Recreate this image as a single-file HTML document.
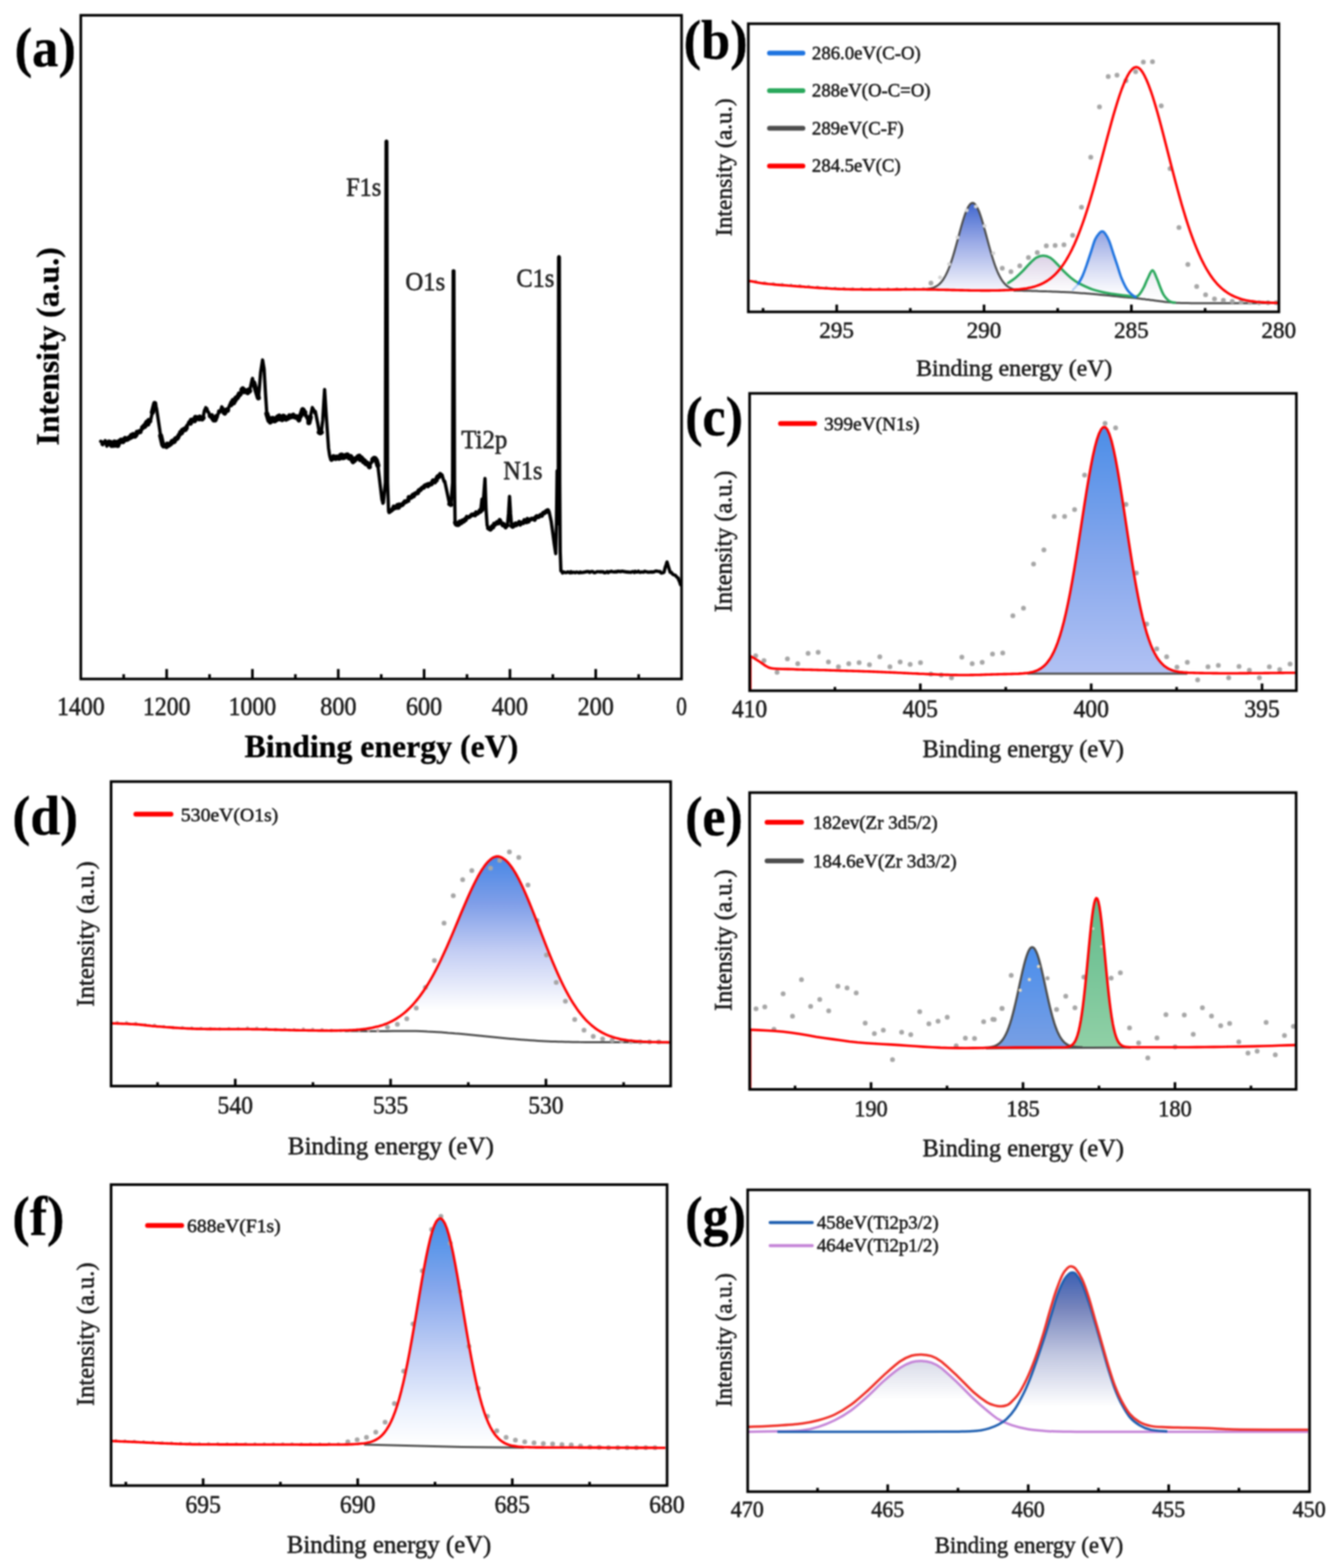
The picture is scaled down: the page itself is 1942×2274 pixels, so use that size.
<!DOCTYPE html>
<html lang="en"><head><meta charset="utf-8"><title>XPS spectra</title>
<style>
html,body{margin:0;padding:0;background:#fff;}
body{width:1942px;height:2274px;overflow:hidden;font-family:"Liberation Serif",serif;}
svg{display:block;}
text.r{stroke:#1c1c1c;stroke-width:0.8px;stroke-linejoin:round;}
text.b{stroke:#000;stroke-width:0.5px;stroke-linejoin:round;}
</style></head><body>
<svg width="1942" height="2274" viewBox="0 0 1942 2274" font-family="'Liberation Serif', serif"><defs><filter id="soft" x="0" y="0" width="1942" height="2274" filterUnits="userSpaceOnUse" color-interpolation-filters="sRGB"><feGaussianBlur stdDeviation="0.8"/></filter><linearGradient id="gb1" gradientUnits="userSpaceOnUse" x1="0" y1="294" x2="0" y2="420"><stop offset="0" stop-color="#3f66cf"/><stop offset="0.45" stop-color="#9aaae6"/><stop offset="1" stop-color="#f4f5fc"/></linearGradient><linearGradient id="gb2" gradientUnits="userSpaceOnUse" x1="0" y1="336" x2="0" y2="428"><stop offset="0" stop-color="#93a4e2"/><stop offset="0.5" stop-color="#d0d6f2"/><stop offset="1" stop-color="#ffffff"/></linearGradient><linearGradient id="gb3" gradientUnits="userSpaceOnUse" x1="0" y1="371" x2="0" y2="424"><stop offset="0" stop-color="#dcd2e6"/><stop offset="1" stop-color="#ffffff"/></linearGradient><linearGradient id="gb4" gradientUnits="userSpaceOnUse" x1="0" y1="392" x2="0" y2="436"><stop offset="0" stop-color="#ececf4"/><stop offset="1" stop-color="#ffffff"/></linearGradient><linearGradient id="gc1" gradientUnits="userSpaceOnUse" x1="0" y1="620" x2="0" y2="980"><stop offset="0" stop-color="#4c8ee8"/><stop offset="0.5" stop-color="#84a6ec"/><stop offset="1" stop-color="#b2c2f4"/></linearGradient><linearGradient id="gd1" gradientUnits="userSpaceOnUse" x1="0" y1="1243" x2="0" y2="1465"><stop offset="0" stop-color="#4888e6"/><stop offset="0.3" stop-color="#7f9ee8"/><stop offset="0.62" stop-color="#c4cef4"/><stop offset="1" stop-color="#ffffff"/></linearGradient><linearGradient id="ge1" gradientUnits="userSpaceOnUse" x1="0" y1="1374" x2="0" y2="1520"><stop offset="0" stop-color="#4a8eec"/><stop offset="1" stop-color="#789fe4"/></linearGradient><linearGradient id="ge2" gradientUnits="userSpaceOnUse" x1="0" y1="1302" x2="0" y2="1520"><stop offset="0" stop-color="#62bb8c"/><stop offset="1" stop-color="#90d0a6"/></linearGradient><linearGradient id="gf1" gradientUnits="userSpaceOnUse" x1="0" y1="1768" x2="0" y2="2095"><stop offset="0" stop-color="#448ee8"/><stop offset="0.3" stop-color="#84a6ec"/><stop offset="0.6" stop-color="#c2d0f5"/><stop offset="0.85" stop-color="#ecf2fd"/><stop offset="1" stop-color="#ffffff"/></linearGradient><linearGradient id="gg1" gradientUnits="userSpaceOnUse" x1="0" y1="1848" x2="0" y2="2040"><stop offset="0" stop-color="#3f62b4"/><stop offset="0.25" stop-color="#7684bc"/><stop offset="0.6" stop-color="#c0c6e0"/><stop offset="1" stop-color="#ffffff"/></linearGradient><linearGradient id="gg2" gradientUnits="userSpaceOnUse" x1="0" y1="1975" x2="0" y2="2030"><stop offset="0" stop-color="#d9dce9"/><stop offset="1" stop-color="#ffffff"/></linearGradient></defs><rect width="1942" height="2274" fill="#fff"/><g filter="url(#soft)"><rect width="1942" height="2274" fill="#fff"/><path d="M146 640L146.8 640.3L147.5 640.7L148.2 644.5L149 645L149.8 641.5L150.5 642.7L151.2 640.6L152 640L152.6 639.1L153.2 642.8L153.8 641.8L154.4 645.3L155 647L155.8 643.3L156.5 641.9L157.2 642.1L158 641L159 643.9L160 641.5L161 643.3L162 646L163 645.4L164 645.8L165 642.7L166 641L167 641.5L168 645.5L169 641.6L170 645L171 645.9L172 641.9L173 640.2L174 641L175.5 638.3L177 638.5L178.5 640.4L180 638L181.5 635.8L183 637.4L184.5 637.2L186 636L187.5 634.6L189 634.7L190.5 631.5L192 633L193.2 630.2L194.5 630.5L195.8 632.4L197 631L197.7 629.3L198.3 627.4L199 627L200.3 627.1L201.7 626.1L203 626L203.8 623.8L204.6 625.1L205.4 623.4L206.2 619.9L207 620L208 619.2L209 617.7L210 618.4L211 616.4L212 614L213.2 612.1L214.5 615L215.8 609.8L217 611L217.7 609.2L218.3 609.7L219 607L221 598L224.4 585L224.9 584.6L225.4 587.7L226 586.8L226.5 591.5L227 592L230 612L233 632L236 645L237.3 646.7L238.7 646L240 646L241.4 647.6L242.8 644.2L244.2 645.8L245.6 644.9L247 644L248 643.1L249 641.1L250 640L251.3 640.8L252.7 640.3L254 637L255.3 635.9L256.7 635.9L258 634L258.8 630.3L259.6 632.2L260.4 630.6L261.2 631L262 627L263.3 627.7L264.7 623.9L266 624L267.3 622.4L268.7 622.9L270 621L270.8 617.2L271.7 618.1L272.5 615.3L273.3 613.7L274.2 612L275 613L276.2 613.6L277.4 609.5L278.6 609.3L279.8 609.2L281 609L282.2 610.2L283.5 605.3L284.8 606.5L286 606L287.3 605.9L288.7 607.3L290 605L291.5 607L293 607.6L294.5 606L296 598L296.5 595.4L297 594.8L297.5 593.1L298 594.4L298.5 591L299.1 594.9L299.8 592.2L300.4 593.8L301 597L301.8 596.8L302.6 598L303.4 600.5L304.2 602.3L305 603L306 603L307 602.8L308 606.2L309 607.1L310 609L311 608.1L312 608.9L313 606.2L314 604L314.8 602.7L315.6 601.8L316.4 600.7L317.2 596.1L318 597L318.7 597.7L319.4 595.7L320.2 594.7L320.9 592.9L321.6 590L322.2 590.9L322.8 592.5L323.4 592.4L324 596L325 598.2L326 599L327 595.7L328 594.8L329 594.5L330 595L330.8 591.9L331.7 591.5L332.5 588.7L333.3 587.1L334.2 586.5L335 587L336 583.7L337 583.9L338 580.9L339 584.1L340 581L341 580.6L342 577.2L343 576.7L344 577L345 575L346 573.8L347 571.3L348 572L348.6 572.4L349.2 571.8L349.8 567.6L350.4 566.3L351 565L352 563.8L353 564.9L354 568L355.3 567.2L356.7 566.8L358 568L359.3 569.4L360.7 565.6L362 567L364 558L365.7 550L366.3 548.8L366.9 554.8L367.4 553.9L368 555L371 565L374.7 577L376 565L378 540L380.8 522L383 535L385 570L387 600L390 610L391 609.2L392 612L393 611L394 607L395 608.4L396 607L397.3 610.2L398.7 610.2L400 609L401 608.8L402 605.3L403 604.6L404 604L405 603.3L406 607.4L407 607.2L408 608L409 608.5L410 605.1L411 603.6L412 604L413.3 606.3L414.7 607.9L416 606L417.3 606.8L418.7 605.6L420 603L421.3 604.7L422.7 604.2L424 603L425.3 602.2L426.7 604.4L428 605L429.1 605L430.2 604.2L431.3 604.9L432.4 607.1L433.5 609L434.1 606.2L434.8 607L435.4 606.9L436 603L439 594L440 595.1L441 598.9L442 598L442.5 601.9L443 603L443.5 601.3L444 601.9L444.5 603.2L445 606L445.6 605.8L446.2 607.3L446.8 610.8L447.4 613.7L448 613L450 605L453 591L453.8 594L454.5 593.4L455.2 595.5L456 596L456.7 598.9L457.3 596.5L458 600L461 615L463 627L464.5 627.8L466 627L468 610L470.8 565L473 600L476.5 650L478 660L478.8 663.6L479.5 664.5L480.2 665.8L481 666L482.3 664.9L483.7 662.3L485 663L486.7 664.8L488.3 662.8L490 664L491.2 664.6L492.5 664.5L493.8 660.5L495 660L496.2 660.2L497.5 663.8L498.8 663.4L500 663L501.2 660.8L502.5 660.1L503.8 659.7L505 661L506.2 664.1L507.5 664.6L508.8 662.2L510 665L511 667.7L512 669.5L513 668L514.2 667.8L515.5 665.2L516.8 665.3L518 664L519.5 662.1L521 661.5L522.5 666.4L524 664L525 665.8L526 666.1L527 669.3L528 668L529 668.7L530 671.9L531 672.7L532 672L532.9 671.7L533.9 673.2L534.8 674.7L535.7 677L536.3 674.4L536.9 674.9L537.4 672L538 672L538.8 670.1L539.5 667.1L540.2 669.6L541 666L542.5 664.7L544 665L545 666.3L546 668L548 675L551 700L554 725L554.7 726.8L555.3 729.8L556 729L558.9 700L560 205L560.5 204.6L561 205L562.1 700L563.5 740L564.2 743.2L565 742L566.2 741L567.5 740.2L568.8 739.1L570 738L571.2 735L572.5 736.7L573.8 734.9L575 736L576.5 732.7L578 736.1L579.5 732L581 733L582.2 731.9L583.5 732.2L584.8 730.3L586 729L587.3 727.4L588.7 727.8L590 727L591 726L592 726L593 721.2L594 722L595.5 721.8L597 721L598 718.7L599 717.8L600 719.4L601 717L602 716L603.2 715.3L604.5 715.4L605.8 715.1L607 712L608.2 710.7L609.5 710.6L610.8 709L612 708L613.2 707.1L614.5 707L615.8 704.8L617 704L618.2 703.7L619.5 702.9L620.8 704.8L622 702L623.2 702.3L624.5 702.5L625.8 702L627 699L628.2 697L629.5 697.8L630.8 699.1L632 696L633 696.8L634 692.1L635 691L636 692L637.2 690.7L638.5 687.8L639.7 689L640.5 688.7L641.2 688.8L642 692L642.8 694.4L643.5 696.5L644.2 698.6L645 698L648 712L652 731L653 729.7L654 732L656.4 700L657.3 393L657.8 394.1L658.3 393L659.2 700L660 758L661 760.3L662 761L663.2 758.3L664.4 761.4L665.6 761L666.8 756.3L668 757L669.2 758.6L670.4 754.9L671.6 754.5L672.8 756.3L674 753L675.5 754L677 749.7L678.5 750.4L680 750L681.5 749.3L683 747.7L684.5 746.2L686 747L687.5 745.6L689 747.2L690.5 743L692 745L693.2 744.5L694.5 743.2L695.8 740.2L697 742L699 724L700 740L701.5 720L703.4 694L705 740L706.5 762L707 762.5L707.5 765.3L708 766L709.5 767.1L711 768L711.8 764.5L712.5 768L713.2 765.7L714 763L715.3 764.8L716.7 759.6L718 761L719.3 759.1L720.7 757.3L722 759L722.9 759.5L723.8 755.8L724.7 754.1L725.6 755L726.4 755.9L727.2 759.8L728 759L729 761.7L730 759.7L731 760.2L732 763L733.3 764.8L734.7 762.7L736 762L737.5 745L739 720L740.5 745L742 763L743.5 764L745 763L746.2 760.1L747.5 759.2L748.8 761.7L750 760L751.5 759.1L753 756.8L754.5 760.8L756 758L757.5 758.2L759 758.6L760.5 754.3L762 756L763.5 757.4L765 752.7L766.5 756.4L768 754L769.5 753.3L771 752.2L772.5 752.8L774 752L775.5 753.7L777 749.8L778.5 748.6L780 750L781.5 749.6L783 747.6L784.5 746.5L786 748L787 745.2L788 743.7L789 743.4L790 744L791.1 742L792.3 741L793.5 742.3L794.6 740L795.2 740.2L795.8 742.5L796.4 742.1L797 745L799.4 756L802 775L804 790L806 803L807 760L808 683L808.5 760L809.7 700L810.2 373L810.7 372.2L811.2 373L811.8 700L812.5 800L813.5 828L814.3 828L815.2 829.5L816 831L817.5 829.5L819 830L820.5 830.5L822 830.1L823.5 829.3L825 829.9L826.5 830.8L828 829.1L829.5 830.6L831 829.8L832.5 829.9L834.1 830.6L835.6 829.7L837.1 829.9L838.6 830.2L840.1 830.8L841.6 829.5L843.1 830.5L844.6 830.2L846.1 830.1L847.6 829.6L849.1 829.5L850.6 828.8L852.1 829L853.6 828.9L855.1 830.2L856.6 829.2L858.1 829L859.6 828.8L861.2 830.4L862.7 830.5L864.2 830L865.7 829.2L867.2 829.1L868.7 829.2L870.2 829.5L871.7 828.9L873.2 829.5L874.7 829.1L876.2 830.5L877.7 830.6L879.2 829.7L880.7 829L882.2 830.5L883.7 829.1L885.2 829.2L886.7 828.5L888.3 829.2L889.8 829.4L891.3 829.5L892.8 828.8L894.3 829.5L895.8 828.4L897.3 828.9L898.8 828.6L900.3 829.2L901.8 828.4L903.3 828.4L904.8 829L906.3 828.8L907.8 829.5L909.3 829.4L910.8 829.9L912.3 829.6L913.8 829.8L915.4 830.1L916.9 829.1L918.4 828.9L919.9 830.3L921.4 828.5L922.9 829.7L924.4 829.5L925.9 828.3L927.4 829.9L928.9 830L930.4 829.5L931.9 829.7L933.4 829.8L934.9 828.4L936.4 829.2L937.9 829.1L939.4 829.8L940.9 829.7L942.5 829.8L944 829.3L945.5 829.9L947 829.4L948.5 829.5L950 828.5L951.5 828.1L953 828.3L954.5 828.7L956 829L957.3 828.8L958.7 831L960 831L961.5 830.6L963 830L965 822L965.5 820.9L966 819.5L966.4 818.2L966.9 816.4L967.4 815L969.5 822L972 830L973.5 830L975 832L976.3 833.3L977.7 833.8L979 834L980 835L981 836.1L982 837.3L983 838L983.7 838.4L984.3 841.2L985 842L987 848" fill="none" stroke="#000" stroke-width="4.8" stroke-linejoin="round" stroke-linecap="round"/>
<path d="M158 641L159 643.9L160 641.5L161 643.3L162 646L163 645.4L164 645.8L165 642.7L166 641L167 641.5L168 645.5L169 641.6L170 645L171 645.9L172 641.9L173 640.2L174 641L175.5 638.3L177 638.5L178.5 640.4L180 638L181.5 635.8L183 637.4L184.5 637.2L186 636L187.5 634.6L189 634.7L190.5 631.5L192 633L193.2 630.2L194.5 630.5L195.8 632.4L197 631M199 627L200.3 627.1L201.7 626.1L203 626M207 620L208 619.2L209 617.7L210 618.4L211 616.4L212 614L213.2 612.1L214.5 615L215.8 609.8L217 611M221 598L224.4 585M233 632L236 645L237.3 646.7L238.7 646L240 646L241.4 647.6L242.8 644.2L244.2 645.8L245.6 644.9L247 644L248 643.1L249 641.1L250 640L251.3 640.8L252.7 640.3L254 637L255.3 635.9L256.7 635.9L258 634M262 627L263.3 627.7L264.7 623.9L266 624L267.3 622.4L268.7 622.9L270 621M275 613L276.2 613.6L277.4 609.5L278.6 609.3L279.8 609.2L281 609L282.2 610.2L283.5 605.3L284.8 606.5L286 606L287.3 605.9L288.7 607.3L290 605L291.5 607L293 607.6L294.5 606M305 603L306 603L307 602.8L308 606.2L309 607.1L310 609L311 608.1L312 608.9L313 606.2L314 604M324 596L325 598.2L326 599L327 595.7L328 594.8L329 594.5L330 595M335 587L336 583.7L337 583.9L338 580.9L339 584.1L340 581L341 580.6L342 577.2L343 576.7L344 577L345 575L346 573.8L347 571.3L348 572M351 565L352 563.8L353 564.9L354 568L355.3 567.2L356.7 566.8L358 568L359.3 569.4L360.7 565.6L362 567M368 555L371 565L374.7 577M387 600L390 610L391 609.2L392 612L393 611L394 607L395 608.4L396 607L397.3 610.2L398.7 610.2L400 609L401 608.8L402 605.3L403 604.6L404 604L405 603.3L406 607.4L407 607.2L408 608L409 608.5L410 605.1L411 603.6L412 604L413.3 606.3L414.7 607.9L416 606L417.3 606.8L418.7 605.6L420 603L421.3 604.7L422.7 604.2L424 603L425.3 602.2L426.7 604.4L428 605L429.1 605L430.2 604.2L431.3 604.9L432.4 607.1L433.5 609M436 603L439 594L440 595.1L441 598.9L442 598M448 613L450 605M463 627L464.5 627.8L466 627M481 666L482.3 664.9L483.7 662.3L485 663L486.7 664.8L488.3 662.8L490 664L491.2 664.6L492.5 664.5L493.8 660.5L495 660L496.2 660.2L497.5 663.8L498.8 663.4L500 663L501.2 660.8L502.5 660.1L503.8 659.7L505 661L506.2 664.1L507.5 664.6L508.8 662.2L510 665L511 667.7L512 669.5L513 668L514.2 667.8L515.5 665.2L516.8 665.3L518 664L519.5 662.1L521 661.5L522.5 666.4L524 664L525 665.8L526 666.1L527 669.3L528 668L529 668.7L530 671.9L531 672.7L532 672L532.9 671.7L533.9 673.2L534.8 674.7L535.7 677M541 666L542.5 664.7L544 665L545 666.3L546 668L548 675" fill="none" stroke="#000" stroke-width="7.4" stroke-linejoin="round" stroke-linecap="round"/>
<path d="M565 742L566.2 741L567.5 740.2L568.8 739.1L570 738L571.2 735L572.5 736.7L573.8 734.9L575 736L576.5 732.7L578 736.1L579.5 732L581 733L582.2 731.9L583.5 732.2L584.8 730.3L586 729L587.3 727.4L588.7 727.8L590 727L591 726L592 726M593 721.2L594 722L595.5 721.8L597 721L598 718.7L599 717.8L600 719.4L601 717L602 716L603.2 715.3L604.5 715.4L605.8 715.1L607 712L608.2 710.7L609.5 710.6L610.8 709L612 708L613.2 707.1L614.5 707L615.8 704.8L617 704L618.2 703.7L619.5 702.9L620.8 704.8L622 702L623.2 702.3L624.5 702.5L625.8 702L627 699L628.2 697L629.5 697.8L630.8 699.1L632 696L633 696.8M634 692.1L635 691L636 692L637.2 690.7L638.5 687.8L639.7 689M652 731L653 729.7L654 732" fill="none" stroke="#000" stroke-width="6.6" stroke-linejoin="round" stroke-linecap="round"/>
<path d="M660 758L661 760.3L662 761L663.2 758.3L664.4 761.4L665.6 761L666.8 756.3L668 757L669.2 758.6L670.4 754.9L671.6 754.5L672.8 756.3L674 753L675.5 754L677 749.7L678.5 750.4L680 750L681.5 749.3L683 747.7L684.5 746.2L686 747L687.5 745.6L689 747.2L690.5 743L692 745L693.2 744.5L694.5 743.2L695.8 740.2L697 742M708 766L709.5 767.1L711 768M714 763L715.3 764.8L716.7 759.6L718 761L719.3 759.1L720.7 757.3L722 759M723.8 755.8L724.7 754.1M728 759L729 761.7L730 759.7L731 760.2L732 763L733.3 764.8L734.7 762.7L736 762M742 763L743.5 764L745 763L746.2 760.1L747.5 759.2L748.8 761.7L750 760L751.5 759.1L753 756.8L754.5 760.8L756 758L757.5 758.2L759 758.6L760.5 754.3L762 756L763.5 757.4L765 752.7L766.5 756.4L768 754L769.5 753.3L771 752.2L772.5 752.8L774 752L775.5 753.7L777 749.8L778.5 748.6L780 750L781.5 749.6L783 747.6L784.5 746.5L786 748L787 745.2L788 743.7L789 743.4L790 744L791.1 742L792.3 741L793.5 742.3L794.6 740" fill="none" stroke="#000" stroke-width="6.0" stroke-linejoin="round" stroke-linecap="round"/>
<rect x="117.2" y="22.2" width="871.3" height="962.5" fill="none" stroke="#000" stroke-width="3.8"/>
<path d="M241.7 984.7V970.2M366.1 984.7V970.2M490.6 984.7V970.2M615.1 984.7V970.2M739.6 984.7V970.2M864 984.7V970.2" stroke="#000" stroke-width="3.8" fill="none"/>
<path d="M179.4 984.7V977.7M303.9 984.7V977.7M428.4 984.7V977.7M552.9 984.7V977.7M677.3 984.7V977.7M801.8 984.7V977.7M926.3 984.7V977.7" stroke="#000" stroke-width="3.8" fill="none"/>
<text x="82.7" y="1036.8" font-size="38" textLength="69" lengthAdjust="spacingAndGlyphs" class="r" fill="#1c1c1c">1400</text>
<text x="207.2" y="1036.8" font-size="38" textLength="69" lengthAdjust="spacingAndGlyphs" class="r" fill="#1c1c1c">1200</text>
<text x="331.6" y="1036.8" font-size="38" textLength="69" lengthAdjust="spacingAndGlyphs" class="r" fill="#1c1c1c">1000</text>
<text x="464.4" y="1036.8" font-size="38" textLength="52.5" lengthAdjust="spacingAndGlyphs" class="r" fill="#1c1c1c">800</text>
<text x="588.8" y="1036.8" font-size="38" textLength="52.5" lengthAdjust="spacingAndGlyphs" class="r" fill="#1c1c1c">600</text>
<text x="713.3" y="1036.8" font-size="38" textLength="52.5" lengthAdjust="spacingAndGlyphs" class="r" fill="#1c1c1c">400</text>
<text x="837.8" y="1036.8" font-size="38" textLength="52.5" lengthAdjust="spacingAndGlyphs" class="r" fill="#1c1c1c">200</text>
<text x="980.8" y="1036.8" font-size="38" textLength="15.5" lengthAdjust="spacingAndGlyphs" class="r" fill="#1c1c1c">0</text>
<text x="354.7" y="1098" font-size="46.5" textLength="396.9" lengthAdjust="spacingAndGlyphs" font-weight="bold" class="b" fill="#000">Binding energy (eV)</text>
<text transform="translate(84.8 646) rotate(-90)" x="0" y="0" font-size="46.5" textLength="287.2" lengthAdjust="spacingAndGlyphs" font-weight="bold" class="b" fill="#000">Intensity (a.u.)</text>
<text x="502" y="284" font-size="38" textLength="51" lengthAdjust="spacingAndGlyphs" class="r" fill="#262626">F1s</text>
<text x="588" y="421" font-size="38" textLength="57.6" lengthAdjust="spacingAndGlyphs" class="r" fill="#262626">O1s</text>
<text x="749" y="415.5" font-size="38" textLength="55" lengthAdjust="spacingAndGlyphs" class="r" fill="#262626">C1s</text>
<text x="669" y="649.6" font-size="38" textLength="66.8" lengthAdjust="spacingAndGlyphs" class="r" fill="#262626">Ti2p</text>
<text x="730" y="694.8" font-size="38" textLength="56.7" lengthAdjust="spacingAndGlyphs" class="r" fill="#262626">N1s</text>
<text x="21.2" y="96.2" font-size="80" textLength="88.9" lengthAdjust="spacingAndGlyphs" font-weight="bold" class="b" fill="#000">(a)</text>
<path d="M1340 419.4L1342 419.3L1344 419.2L1346 418.9L1348 418.6L1350 418.2L1352 417.7L1354 417.1L1356 416.2L1358 415.2L1360 413.9L1362 412.3L1364 410.4L1366 408L1368 405.3L1370 402.1L1372 398.4L1374 394.2L1376 389.5L1378 384.2L1380 378.4L1382 372.2L1384 365.5L1386 358.4L1388 351.2L1390 343.8L1392 336.4L1394 329.1L1396 322.1L1398 315.6L1400 309.8L1402 304.7L1404 300.5L1406 297.3L1408 295.2L1410 294.3L1412 294.5L1414 296L1416 298.6L1418 302.3L1420 306.9L1422 312.4L1424 318.6L1426 325.4L1428 332.6L1430 340L1432 347.4L1434 354.9L1436 362.1L1438 369.1L1440 375.6L1442 381.7L1444 387.4L1446 392.5L1448 397L1450 401.1L1452 404.6L1454 407.7L1456 410.3L1458 412.4L1460 414.3L1462 415.8L1464 417L1466 418L1468 418.8L1470 419.5L1472 420L1474 420.4L1476 420.7L1478 420.9L1480 421.1L1480 421.6L1340 419.8Z" fill="url(#gb1)"/>
<path d="M1462.1 410.4C1463.8 409.2 1468.9 406 1472.3 403.3C1475.7 400.6 1479 397.5 1482.4 394.1C1485.8 390.7 1489.2 386.4 1492.6 383C1496 379.6 1499.4 375.9 1502.8 373.8C1506.2 371.8 1509.6 370.7 1513 370.7C1516.4 370.7 1519.8 371.8 1523.2 373.8C1526.6 375.9 1529.9 379.6 1533.3 383C1536.7 386.4 1540.1 390.7 1543.5 394.1C1546.9 397.5 1550.3 400.6 1553.7 403.3C1557.1 406 1558.8 407.7 1563.9 410.4C1569 413.1 1577.4 417.2 1584.2 419.6C1591 422 1597.8 423.4 1604.6 424.7C1611.4 426 1619 426.9 1624.9 427.7C1630.8 428.5 1637.5 429.3 1640 429.6L1640 431.6L1462 421.4Z" fill="url(#gb3)"/>
<path d="M1646.8 430.6C1647.7 430.1 1650.2 429.8 1652.2 427.4C1654.2 425 1657 420.4 1659 416.5C1661 412.6 1662.3 408.4 1664.4 404.3C1666.5 400.2 1669.2 392.1 1671.5 392.1C1673.8 392.1 1676.1 400.2 1678 404.3C1679.9 408.4 1681.1 412.6 1682.7 416.5C1684.3 420.4 1685.6 424.2 1687.5 427.4C1689.4 430.6 1692.3 433.7 1694.3 435.5C1696.3 437.3 1698.1 437.6 1699.7 438.2C1701.3 438.8 1703.3 438.7 1704 438.8Z" fill="url(#gb4)"/>
<path d="M1556 420.5C1557.3 419 1561.6 414.8 1563.9 411.4C1566.2 408 1568 404.8 1570 400.2C1572 395.6 1574.1 389.8 1576.1 384C1578.1 378.2 1580.2 371.7 1582.2 365.6C1584.2 359.5 1586.3 351.9 1588.3 347.3C1590.3 342.7 1592.7 340.2 1594.4 338.2C1596.1 336.2 1597.2 335.5 1598.5 335.5C1599.8 335.5 1600.8 335.9 1602.5 338.2C1604.2 340.5 1606.6 344.5 1608.6 349.4C1610.6 354.3 1612.7 361.6 1614.7 367.7C1616.7 373.8 1618.8 379.9 1620.8 386C1622.8 392.1 1624.5 398.5 1626.9 404.3C1629.3 410.1 1632.4 416.5 1635.1 420.6C1637.8 424.7 1641.2 427 1643.2 428.7C1645.2 430.4 1646.6 430.4 1647.3 430.8Z" fill="url(#gb2)"/>
<path d="M1470 421.5C1471 421.5 1474 421.5 1476 421.5C1478 421.5 1480 421.6 1482 421.6C1484 421.6 1486 421.7 1488 421.7C1490 421.8 1492 421.8 1494 421.8C1496 421.9 1498 421.9 1500 422C1502 422.1 1504 422.1 1506 422.2C1508 422.2 1510 422.3 1512 422.4C1514 422.4 1516 422.5 1518 422.6C1520 422.6 1522 422.7 1524 422.8C1526 422.9 1528 422.9 1530 423C1532 423.1 1534 423.2 1536 423.3C1538 423.4 1540 423.4 1542 423.5C1544 423.6 1546 423.7 1548 423.8C1550 423.9 1552 424 1554 424.1C1556 424.3 1558 424.4 1560 424.5C1562 424.6 1564 424.8 1566 424.9C1568 425.1 1570 425.2 1572 425.3C1574 425.5 1576 425.6 1578 425.8C1580 426 1582 426.1 1584 426.3C1586 426.5 1588 426.6 1590 426.8C1592 427 1594 427.2 1596 427.4C1598 427.6 1600 427.8 1602 428C1604 428.2 1606 428.4 1608 428.6C1610 428.8 1612 429 1614 429.2C1616 429.4 1618 429.6 1620 429.8C1622 430 1624 430.2 1626 430.4C1628 430.6 1630 430.7 1632 430.9C1634 431.1 1636 431.2 1638 431.4C1640 431.6 1642 431.8 1644 432C1646 432.3 1648 432.5 1650 432.7C1652 433 1654 433.2 1656 433.4C1658 433.7 1660 433.9 1662 434.2C1664 434.4 1666 434.7 1668 434.9C1670 435.2 1672 435.4 1674 435.7C1676 436 1678 436.3 1680 436.5C1682 436.8 1684 437.1 1686 437.3C1688 437.5 1690 437.8 1692 438C1694 438.2 1696 438.4 1698 438.5C1700 438.7 1702 438.8 1704 438.9C1706 439.1 1708 439.2 1710 439.3C1712 439.4 1714 439.4 1716 439.5C1718 439.6 1720 439.6 1722 439.6C1724 439.6 1726 439.6 1728 439.7C1730 439.7 1732 439.7 1734 439.7C1736 439.7 1738 439.7 1740 439.7C1742 439.7 1744 439.7 1746 439.7C1748 439.7 1750 439.8 1752 439.8C1754 439.8 1756 439.8 1758 439.8C1760 439.8 1762 439.8 1764 439.8C1766 439.8 1768 439.8 1770 439.8C1772 439.8 1774 439.8 1776 439.8C1778 439.8 1780 439.8 1782 439.8C1784 439.8 1786 439.7 1788 439.7C1790 439.7 1792 439.7 1794 439.7C1796 439.7 1798 439.7 1800 439.7C1802 439.7 1804 439.7 1806 439.7C1808 439.7 1810 439.7 1812 439.7C1814 439.7 1816 439.7 1818 439.7C1820 439.7 1822 439.6 1824 439.6C1826 439.6 1828 439.6 1830 439.6C1832 439.6 1834 439.6 1836 439.6C1838 439.6 1840 439.6 1842 439.6C1844 439.6 1846.2 439.6 1848 439.6C1849.8 439.6 1852.2 439.6 1853 439.6" fill="none" stroke="#4d4d4d" stroke-width="3"/>
<path d="M1340 419.4L1342 419.3L1344 419.2L1346 418.9L1348 418.6L1350 418.2L1352 417.7L1354 417.1L1356 416.2L1358 415.2L1360 413.9L1362 412.3L1364 410.4L1366 408L1368 405.3L1370 402.1L1372 398.4L1374 394.2L1376 389.5L1378 384.2L1380 378.4L1382 372.2L1384 365.5L1386 358.4L1388 351.2L1390 343.8L1392 336.4L1394 329.1L1396 322.1L1398 315.6L1400 309.8L1402 304.7L1404 300.5L1406 297.3L1408 295.2L1410 294.3L1412 294.5L1414 296L1416 298.6L1418 302.3L1420 306.9L1422 312.4L1424 318.6L1426 325.4L1428 332.6L1430 340L1432 347.4L1434 354.9L1436 362.1L1438 369.1L1440 375.6L1442 381.7L1444 387.4L1446 392.5L1448 397L1450 401.1L1452 404.6L1454 407.7L1456 410.3L1458 412.4L1460 414.3L1462 415.8L1464 417L1466 418L1468 418.8L1470 419.5L1472 420L1474 420.4L1476 420.7L1478 420.9L1480 421.1" fill="none" stroke="#4d4d4d" stroke-width="3"/>
<path d="M1462.1 410.4C1463.8 409.2 1468.9 406 1472.3 403.3C1475.7 400.6 1479 397.5 1482.4 394.1C1485.8 390.7 1489.2 386.4 1492.6 383C1496 379.6 1499.4 375.9 1502.8 373.8C1506.2 371.8 1509.6 370.7 1513 370.7C1516.4 370.7 1519.8 371.8 1523.2 373.8C1526.6 375.9 1529.9 379.6 1533.3 383C1536.7 386.4 1540.1 390.7 1543.5 394.1C1546.9 397.5 1550.3 400.6 1553.7 403.3C1557.1 406 1558.8 407.7 1563.9 410.4C1569 413.1 1577.4 417.2 1584.2 419.6C1591 422 1597.8 423.4 1604.6 424.7C1611.4 426 1619 426.9 1624.9 427.7C1630.8 428.5 1636.3 429.1 1640 429.6C1643.7 430.1 1644.8 431 1646.8 430.6C1648.8 430.2 1650.2 429.8 1652.2 427.4C1654.2 425 1657 420.4 1659 416.5C1661 412.6 1662.3 408.4 1664.4 404.3C1666.5 400.2 1669.2 392.1 1671.5 392.1C1673.8 392.1 1676.1 400.2 1678 404.3C1679.9 408.4 1681.1 412.6 1682.7 416.5C1684.3 420.4 1685.6 424.2 1687.5 427.4C1689.4 430.6 1692.3 433.7 1694.3 435.5C1696.3 437.3 1698.1 437.6 1699.7 438.2C1701.3 438.8 1703.3 438.7 1704 438.8" fill="none" stroke="#2aa85c" stroke-width="3.6" stroke-linecap="round"/>
<path d="M1556 420.5C1557.3 419 1561.6 414.8 1563.9 411.4C1566.2 408 1569 402.1 1570 400.2" fill="none" stroke="#b4d0f6" stroke-width="3.0" stroke-linecap="round"/>
<path d="M1563.9 411.4C1564.9 409.5 1568 404.8 1570 400.2C1572 395.6 1574.1 389.8 1576.1 384C1578.1 378.2 1580.2 371.7 1582.2 365.6C1584.2 359.5 1586.3 351.9 1588.3 347.3C1590.3 342.7 1592.7 340.2 1594.4 338.2C1596.1 336.2 1597.2 335.5 1598.5 335.5C1599.8 335.5 1600.8 335.9 1602.5 338.2C1604.2 340.5 1606.6 344.5 1608.6 349.4C1610.6 354.3 1612.7 361.6 1614.7 367.7C1616.7 373.8 1618.8 379.9 1620.8 386C1622.8 392.1 1624.5 398.5 1626.9 404.3C1629.3 410.1 1632.4 416.5 1635.1 420.6C1637.8 424.7 1641.2 427 1643.2 428.7C1645.2 430.4 1646.6 430.4 1647.3 430.8" fill="none" stroke="#1f74e0" stroke-width="3.6" stroke-linecap="round"/>
<g fill="#c0aaaa"><circle cx="1096" cy="408.4" r="2.4"/><circle cx="1108.8" cy="410.4" r="2.4"/><circle cx="1121.6" cy="411.7" r="2.4"/><circle cx="1134.4" cy="412.7" r="2.4"/><circle cx="1147.2" cy="413.7" r="2.4"/><circle cx="1160" cy="414.6" r="2.4"/><circle cx="1172.8" cy="415.6" r="2.4"/><circle cx="1185.6" cy="416.6" r="2.4"/><circle cx="1198.4" cy="417.4" r="2.4"/><circle cx="1211.2" cy="418.1" r="2.4"/><circle cx="1224" cy="418.6" r="2.4"/><circle cx="1236.8" cy="418.9" r="2.4"/><circle cx="1249.6" cy="419" r="2.4"/><circle cx="1262.4" cy="419.1" r="2.4"/><circle cx="1275.2" cy="419.2" r="2.4"/><circle cx="1288" cy="419.2" r="2.4"/><circle cx="1300.8" cy="419.1" r="2.4"/><circle cx="1313.6" cy="419" r="2.4"/><circle cx="1326.4" cy="419" r="2.4"/><circle cx="1339.2" cy="419" r="2.4"/></g>
<g fill="#d4d4d4"><circle cx="1363.4" cy="402.3" r="2.8"/><circle cx="1376.6" cy="383" r="2.8"/><circle cx="1388.8" cy="344.3" r="2.8"/><circle cx="1402.1" cy="305" r="2.8"/><circle cx="1415.3" cy="299.5" r="2.8"/><circle cx="1427.9" cy="327.6" r="2.8"/><circle cx="1440.7" cy="367.3" r="2.8"/></g>
<g fill="#a6a6a6"><circle cx="1350.2" cy="410.4" r="3.5"/><circle cx="1453.6" cy="389" r="3.5"/><circle cx="1466.2" cy="394.1" r="3.5"/><circle cx="1479" cy="385.6" r="3.5"/><circle cx="1491.6" cy="373.4" r="3.5"/><circle cx="1504.4" cy="366.3" r="3.5"/><circle cx="1517.5" cy="356.5" r="3.5"/><circle cx="1530.3" cy="355.9" r="3.5"/><circle cx="1543.1" cy="355.1" r="3.5"/><circle cx="1555.7" cy="341.2" r="3.5"/><circle cx="1568.5" cy="300.5" r="3.5"/><circle cx="1582" cy="228" r="3.5"/><circle cx="1594.6" cy="155" r="3.5"/><circle cx="1607.3" cy="111" r="3.5"/><circle cx="1620" cy="109" r="3.5"/><circle cx="1633" cy="117" r="3.5"/><circle cx="1647" cy="104" r="3.5"/><circle cx="1658.2" cy="89.9" r="3.5"/><circle cx="1671.5" cy="89.6" r="3.5"/><circle cx="1684.2" cy="153.5" r="3.5"/><circle cx="1697" cy="244.5" r="3.5"/><circle cx="1709.9" cy="330.1" r="3.5"/><circle cx="1722.8" cy="383.6" r="3.5"/><circle cx="1735.6" cy="415.4" r="3.5"/><circle cx="1748.5" cy="427.4" r="3.5"/><circle cx="1761.4" cy="433.5" r="3.5"/><circle cx="1774.3" cy="435.5" r="3.5"/><circle cx="1787.2" cy="436.9" r="3.5"/><circle cx="1800" cy="438" r="3.5"/><circle cx="1813" cy="438.5" r="3.5"/><circle cx="1826" cy="439" r="3.5"/><circle cx="1839" cy="439" r="3.5"/><circle cx="1851" cy="439" r="3.5"/></g>
<path d="M1087 407.4L1090 408L1093 408.6L1096 409.2L1099 409.8L1102 410.3L1105 410.7L1108 411.1L1111 411.4L1114 411.8L1117 412L1120 412.3L1123 412.6L1126 412.9L1129 413.1L1132 413.4L1135 413.6L1138 413.8L1141 414L1144 414.3L1147 414.5L1150 414.7L1153 414.9L1156 415.2L1159 415.4L1162 415.6L1165 415.8L1168 416.1L1171 416.3L1174 416.5L1177 416.7L1180 417L1183 417.2L1186 417.4L1189 417.6L1192 417.8L1195 418L1198 418.2L1201 418.3L1204 418.5L1207 418.7L1210 418.8L1213 419L1216 419.1L1219 419.2L1222 419.3L1225 419.4L1228 419.5L1231 419.5L1234 419.6L1237 419.7L1240 419.7L1243 419.8L1246 419.8L1249 419.8L1252 419.9L1255 419.9L1258 419.9L1261 419.9L1264 420L1267 420L1270 420L1273 420L1276 420L1279 420L1282 420L1285 420L1288 420L1291 420L1294 420L1297 419.9L1300 419.9L1303 419.9L1306 419.9L1309 419.8L1312 419.8L1315 419.8L1318 419.8L1321 419.8L1324 419.8L1327 419.8L1330 419.8L1333 419.8L1336 419.8L1339 419.8L1342 419.8L1345 419.9L1348 419.9L1351 419.9L1354 420L1357 420L1360 420.1L1363 420.2L1366 420.2L1369 420.3L1372 420.4L1375 420.4L1378 420.5L1381 420.6L1384 420.6L1387 420.7L1390 420.8L1393 420.9L1396 420.9L1399 421L1402 421L1405 421.1L1408 421.2L1411 421.2L1414 421.3L1417 421.3L1420 421.3L1423 421.4L1426 421.4L1429 421.4L1432 421.4L1435 421.4L1438 421.3L1441 421.3L1444 421.2L1447 421.2L1450 421.1L1453 421L1456 420.9L1459 420.8L1462 420.7L1465 420.5L1468 420.4L1471 420.2L1474 419.9L1477 419.7L1480 419.4L1483 419L1486 418.6L1489 418.2L1492 417.6L1495 417L1498 416.2L1501 415.4L1504 414.4L1507 413.3L1510 412L1513 410.6L1516 408.9L1519 407.1L1522 405L1525 402.7L1528 400.1L1531 397.2L1534 394L1537 390.4L1540 386.5L1543 382.3L1546 377.6L1549 372.5L1552 367L1555 361.1L1558 354.7L1561 347.8L1564 340.5L1567 332.7L1570 324.5L1573 315.8L1576 306.7L1579 297.2L1582 287.3L1585 277L1588 266.4L1591 255.6L1594 244.5L1597 233.3L1600 222L1603 210.6L1606 199.3L1609 188.2L1612 177.3L1615 166.6L1618 156.4L1621 146.7L1624 137.5L1627 129L1630 121.3L1633 114.5L1636 108.6L1639 103.8L1642 100.3L1645 98L1648 97.2L1651 98.1L1654 100.7L1657 104.7L1660 109.9L1663 116.2L1666 123.6L1669 131.8L1672 140.8L1675 150.5L1678 160.8L1681 171.6L1684 182.8L1687 194.3L1690 206L1693 217.7L1696 229.5L1699 241.2L1702 252.8L1705 264.3L1708 275.4L1711 286.3L1714 296.9L1717 307.1L1720 316.9L1723 326.2L1726 335.2L1729 343.6L1732 351.7L1735 359.2L1738 366.3L1741 373L1744 379.2L1747 385L1750 390.4L1753 395.3L1756 399.9L1759 404.1L1762 407.9L1765 411.4L1768 414.5L1771 417.4L1774 420L1777 422.3L1780 424.4L1783 426.3L1786 428L1789 429.4L1792 430.8L1795 431.9L1798 433L1801 433.9L1804 434.7L1807 435.4L1810 436L1813 436.5L1816 436.9L1819 437.3L1822 437.7L1825 438L1828 438.2L1831 438.4L1834 438.6L1837 438.8L1840 438.9L1843 439L1846 439.1L1849 439.2L1852 439.3L1853.5 439.3" fill="none" stroke="#ff0000" stroke-width="3.6" stroke-linejoin="round"/>
<rect x="1085.3" y="34.4" width="769.5" height="417.9" fill="none" stroke="#000" stroke-width="3.8"/>
<path d="M1213.5 452.3V441.8M1427.2 452.3V441.8M1640.9 452.3V441.8" stroke="#000" stroke-width="3.8" fill="none"/>
<path d="M1106.7 452.3V446.8M1320.3 452.3V446.8M1534 452.3V446.8M1747.8 452.3V446.8" stroke="#000" stroke-width="3.8" fill="none"/>
<text x="1188.3" y="490.2" font-size="34.5" textLength="50.3" lengthAdjust="spacingAndGlyphs" class="r" fill="#1c1c1c">295</text>
<text x="1402" y="490.2" font-size="34.5" textLength="50.3" lengthAdjust="spacingAndGlyphs" class="r" fill="#1c1c1c">290</text>
<text x="1615.8" y="490.2" font-size="34.5" textLength="50.3" lengthAdjust="spacingAndGlyphs" class="r" fill="#1c1c1c">285</text>
<text x="1829.4" y="490.2" font-size="34.5" textLength="50.3" lengthAdjust="spacingAndGlyphs" class="r" fill="#1c1c1c">280</text>
<text x="1328.8" y="545.4" font-size="34.5" textLength="284.2" lengthAdjust="spacingAndGlyphs" class="r" fill="#1c1c1c">Binding energy (eV)</text>
<text transform="translate(1061 342.6) rotate(-90)" x="0" y="0" font-size="34.5" textLength="199.9" lengthAdjust="spacingAndGlyphs" class="r" fill="#1c1c1c">Intensity (a.u.)</text>
<path d="M1116 76.9H1164.5" stroke="#1f74e0" stroke-width="7" stroke-linecap="round" fill="none"/>
<text x="1177.6" y="85.5" font-size="27.3" textLength="157.8" lengthAdjust="spacingAndGlyphs" class="r" fill="#1c1c1c">286.0eV(C-O)</text>
<path d="M1116 131.5H1164.5" stroke="#2aa85c" stroke-width="7" stroke-linecap="round" fill="none"/>
<text x="1177.6" y="140.1" font-size="27.3" textLength="171.9" lengthAdjust="spacingAndGlyphs" class="r" fill="#1c1c1c">288eV(O-C=O)</text>
<path d="M1116 186.1H1164.5" stroke="#4d4d4d" stroke-width="7" stroke-linecap="round" fill="none"/>
<text x="1177.6" y="194.7" font-size="27.3" textLength="132.9" lengthAdjust="spacingAndGlyphs" class="r" fill="#1c1c1c">289eV(C-F)</text>
<path d="M1116 240.7H1164.5" stroke="#ff0000" stroke-width="7" stroke-linecap="round" fill="none"/>
<text x="1177.6" y="249.3" font-size="27.3" textLength="128.6" lengthAdjust="spacingAndGlyphs" class="r" fill="#1c1c1c">284.5eV(C)</text>
<text x="991.4" y="85.2" font-size="80" textLength="92.9" lengthAdjust="spacingAndGlyphs" font-weight="bold" class="b" fill="#000">(b)</text>
<path d="M1470 977.3L1472 977.3L1474 977.2L1476 977.1L1478 977L1480 976.9L1482 976.8L1484 976.6L1486 976.4L1488 976.2L1490 976L1492 975.7L1494 975.3L1496 974.9L1498 974.4L1500 973.8L1502 973.1L1504 972.3L1506 971.4L1508 970.3L1510 969.1L1512 967.6L1514 965.9L1516 964.1L1518 961.9L1520 959.4L1522 956.7L1524 953.6L1526 950.1L1528 946.2L1530 941.8L1532 937.1L1534 931.8L1536 926L1538 919.7L1540 912.8L1542 905.4L1544 897.4L1546 888.8L1548 879.7L1550 870L1552 859.8L1554 849L1556 837.8L1558 826.1L1560 814L1562 801.6L1564 788.9L1566 776L1568 763L1570 750L1572 737L1574 724.2L1576 711.7L1578 699.6L1580 688L1582 677L1584 666.6L1586 657.1L1588 648.4L1590 640.8L1592 634.2L1594 628.7L1596 624.4L1598 621.4L1600 619.6L1602 619.1L1604 620.3L1606 623L1608 627.1L1610 632.6L1612 639.3L1614 647.2L1616 656.2L1618 666.1L1620 676.8L1622 688.3L1624 700.3L1626 712.8L1628 725.7L1630 738.8L1632 752L1634 765.3L1636 778.5L1638 791.5L1640 804.3L1642 816.7L1644 828.8L1646 840.5L1648 851.6L1650 862.3L1652 872.4L1654 881.9L1656 890.8L1658 899.2L1660 907L1662 914.2L1664 920.8L1666 926.9L1668 932.5L1670 937.6L1672 942.2L1674 946.3L1676 950.1L1678 953.4L1680 956.4L1682 959L1684 961.3L1686 963.4L1688 965.2L1690 966.8L1692 968.2L1694 969.4L1696 970.4L1698 971.3L1700 972L1702 972.7L1704 973.2L1706 973.7L1708 974.1L1710 974.4L1712 974.7L1714 974.9L1716 975.1L1718 975.3L1720 975.4L1722 975.5L1724 975.6L1726 975.7L1728 975.8L1730 975.8L1732 975.9L1734 975.9L1736 976L1738 976L1740 976.1Z" fill="url(#gc1)"/>
<path d="M1490 977H1722" stroke="#4d4d4d" stroke-width="3" fill="none"/>
<g fill="#a6a6a6"><circle cx="1096" cy="951" r="3.5"/><circle cx="1108" cy="958" r="3.5"/><circle cx="1127" cy="975" r="3.5"/><circle cx="1142" cy="955.5" r="3.5"/><circle cx="1157" cy="962.5" r="3.5"/><circle cx="1172" cy="947.5" r="3.5"/><circle cx="1186.6" cy="946" r="3.5"/><circle cx="1201.5" cy="960" r="3.5"/><circle cx="1216" cy="967" r="3.5"/><circle cx="1231" cy="962.5" r="3.5"/><circle cx="1246" cy="961" r="3.5"/><circle cx="1261" cy="964" r="3.5"/><circle cx="1276" cy="952.5" r="3.5"/><circle cx="1290.7" cy="967" r="3.5"/><circle cx="1305.5" cy="960" r="3.5"/><circle cx="1320" cy="963.5" r="3.5"/><circle cx="1335" cy="961" r="3.5"/><circle cx="1350" cy="977.5" r="3.5"/><circle cx="1365" cy="979" r="3.5"/><circle cx="1380" cy="983" r="3.5"/><circle cx="1395" cy="953" r="3.5"/><circle cx="1410" cy="962.5" r="3.5"/><circle cx="1424.5" cy="960.5" r="3.5"/><circle cx="1439.5" cy="948.5" r="3.5"/><circle cx="1454.3" cy="947" r="3.5"/><circle cx="1469" cy="893" r="3.5"/><circle cx="1484.4" cy="882" r="3.5"/><circle cx="1499" cy="818" r="3.5"/><circle cx="1514" cy="797.5" r="3.5"/><circle cx="1529" cy="749" r="3.5"/><circle cx="1544" cy="749" r="3.5"/><circle cx="1558.5" cy="739" r="3.5"/><circle cx="1573" cy="689" r="3.5"/><circle cx="1602.7" cy="614" r="3.5"/><circle cx="1618" cy="620.5" r="3.5"/><circle cx="1633" cy="731.5" r="3.5"/><circle cx="1648" cy="831" r="3.5"/><circle cx="1663" cy="905" r="3.5"/><circle cx="1677.7" cy="941" r="3.5"/><circle cx="1692" cy="952.5" r="3.5"/><circle cx="1707" cy="967.5" r="3.5"/><circle cx="1722" cy="960.5" r="3.5"/><circle cx="1737" cy="986" r="3.5"/><circle cx="1752" cy="967" r="3.5"/><circle cx="1767" cy="965" r="3.5"/><circle cx="1782" cy="983" r="3.5"/><circle cx="1797" cy="966.5" r="3.5"/><circle cx="1812" cy="972" r="3.5"/><circle cx="1826.5" cy="983" r="3.5"/><circle cx="1841" cy="967" r="3.5"/><circle cx="1856" cy="971" r="3.5"/><circle cx="1871" cy="963" r="3.5"/></g>
<path d="M1088.8 1000V951" stroke="#ff0000" stroke-width="2.5" fill="none"/>
<path d="M1087.5 951C1089.6 952.2 1095.9 955.9 1100 958.5C1104.1 961.1 1108.5 964.7 1112 966.5C1115.5 968.3 1114.7 968.8 1121 969.5C1127.3 970.2 1145.2 970.3 1150 970.5L1153 970.8L1156 970.9L1159 971L1162 971L1165 971.1L1168 971.2L1171 971.2L1174 971.3L1177 971.4L1180 971.5L1183 971.5L1186 971.6L1189 971.7L1192 971.8L1195 971.8L1198 971.9L1201 972L1204 972.1L1207 972.2L1210 972.3L1213 972.4L1216 972.5L1219 972.6L1222 972.7L1225 972.8L1228 972.9L1231 973L1234 973L1237 973.1L1240 973.2L1243 973.3L1246 973.4L1249 973.5L1252 973.6L1255 973.7L1258 973.8L1261 973.9L1264 974L1267 974.1L1270 974.3L1273 974.4L1276 974.5L1279 974.6L1282 974.7L1285 974.9L1288 975L1291 975.1L1294 975.3L1297 975.4L1300 975.5L1303 975.7L1306 975.8L1309 976L1312 976.1L1315 976.2L1318 976.4L1321 976.5L1324 976.7L1327 976.8L1330 976.9L1333 977.1L1336 977.2L1339 977.3L1342 977.5L1345 977.6L1348 977.7L1351 977.8L1354 977.9L1357 978L1360 978.2L1363 978.3L1366 978.4L1369 978.5L1372 978.6L1375 978.6L1378 978.7L1381 978.8L1384 978.9L1387 978.9L1390 979L1393 979L1396 979L1399 979L1402 979L1405 979L1408 978.9L1411 978.9L1414 978.8L1417 978.7L1420 978.7L1423 978.6L1426 978.5L1429 978.4L1432 978.3L1435 978.2L1438 978.1L1441 978L1444 978L1447 977.9L1450 977.8L1453 977.7L1456 977.6L1459 977.6L1462 977.5L1465 977.5L1468 977.4L1471 977.3L1474 977.2L1477 977.1L1480 976.9L1483 976.7L1486 976.4L1489 976.1L1492 975.7L1495 975.1L1498 974.4L1501 973.5L1504 972.3L1507 970.9L1510 969.1L1513 966.8L1516 964.1L1519 960.7L1522 956.7L1525 951.9L1528 946.2L1531 939.5L1534 931.8L1537 922.9L1540 912.8L1543 901.5L1546 888.8L1549 874.9L1552 859.8L1555 843.4L1558 826.1L1561 807.8L1564 788.9L1567 769.5L1570 750L1573 730.6L1576 711.7L1579 693.7L1582 677L1585 661.7L1588 648.4L1591 637.3L1594 628.7L1597 622.7L1600 619.6L1603 619.5L1606 623L1609 629.7L1612 639.3L1615 651.6L1618 666.1L1621 682.5L1624 700.3L1627 719.2L1630 738.8L1633 758.7L1636 778.5L1639 797.9L1642 816.7L1645 834.7L1648 851.6L1651 867.4L1654 881.9L1657 895.1L1660 907L1663 917.6L1666 926.9L1669 935.1L1672 942.2L1675 948.2L1678 953.4L1681 957.7L1684 961.3L1687 964.3L1690 966.8L1693 968.8L1696 970.4L1699 971.7L1702 972.7L1705 973.5L1708 974.1L1711 974.6L1714 974.9L1717 975.2L1720 975.4L1723 975.6L1726 975.7L1729 975.8L1732 975.9L1735 976L1738 976L1741 976.1L1744 976.1L1747 976.2L1750 976.2L1753 976.3L1756 976.3L1759 976.4L1762 976.4L1765 976.4L1768 976.5L1771 976.5L1774 976.5L1777 976.5L1780 976.5L1783 976.5L1786 976.5L1789 976.5L1792 976.5L1795 976.5L1798 976.4L1801 976.4L1804 976.4L1807 976.4L1810 976.4L1813 976.3L1816 976.3L1819 976.3L1822 976.3L1825 976.2L1828 976.2L1831 976.2L1834 976.1L1837 976.1L1840 976.1L1843 976L1846 976L1849 976L1852 976L1855 975.9L1858 975.9L1861 975.9L1864 975.8L1867 975.8L1870 975.8L1873 975.7L1876 975.7L1878.7 975.7" fill="none" stroke="#ff0000" stroke-width="3.6" stroke-linejoin="round"/>
<rect x="1087.2" y="570.5" width="793" height="431.2" fill="none" stroke="#000" stroke-width="3.8"/>
<path d="M1334.8 1001.7V991.2M1582.6 1001.7V991.2M1830.4 1001.7V991.2" stroke="#000" stroke-width="3.8" fill="none"/>
<path d="M1210.9 1001.7V996.2M1458.7 1001.7V996.2M1706.5 1001.7V996.2" stroke="#000" stroke-width="3.8" fill="none"/>
<text x="1061.4" y="1040.1" font-size="35" textLength="51.2" lengthAdjust="spacingAndGlyphs" class="r" fill="#1c1c1c">410</text>
<text x="1309.2" y="1040.1" font-size="35" textLength="51.2" lengthAdjust="spacingAndGlyphs" class="r" fill="#1c1c1c">405</text>
<text x="1557" y="1040.1" font-size="35" textLength="51.2" lengthAdjust="spacingAndGlyphs" class="r" fill="#1c1c1c">400</text>
<text x="1804.8" y="1040.1" font-size="35" textLength="51.2" lengthAdjust="spacingAndGlyphs" class="r" fill="#1c1c1c">395</text>
<text x="1337.9" y="1098" font-size="35.4" textLength="292.1" lengthAdjust="spacingAndGlyphs" class="r" fill="#1c1c1c">Binding energy (eV)</text>
<text transform="translate(1061 887.7) rotate(-90)" x="0" y="0" font-size="35.4" textLength="205" lengthAdjust="spacingAndGlyphs" class="r" fill="#1c1c1c">Intensity (a.u.)</text>
<path d="M1132 614.3H1181.5" stroke="#ff0000" stroke-width="7" stroke-linecap="round" fill="none"/>
<text x="1195.2" y="624" font-size="28" textLength="138.5" lengthAdjust="spacingAndGlyphs" class="r" fill="#1c1c1c">399eV(N1s)</text>
<text x="993.7" y="630.8" font-size="80" textLength="83.9" lengthAdjust="spacingAndGlyphs" font-weight="bold" class="b" fill="#000">(c)</text>
<path d="M470 1494.6L473 1494.6L476 1494.7L479 1494.7L482 1494.6L485 1494.6L488 1494.6L491 1494.6L494 1494.5L497 1494.4L500 1494.4L503 1494.3L506 1494.1L509 1494L512 1493.8L515 1493.6L518 1493.4L521 1493.1L524 1492.8L527 1492.5L530 1492.1L533 1491.7L536 1491.2L539 1490.7L542 1490.1L545 1489.4L548 1488.6L551 1487.8L554 1486.9L557 1485.9L560 1484.8L563 1483.5L566 1482.1L569 1480.6L572 1479L575 1477.2L578 1475.3L581 1473.1L584 1470.9L587 1468.4L590 1465.8L593 1463L596 1460L599 1456.8L602 1453.4L605 1449.7L608 1445.9L611 1441.8L614 1437.6L617 1433.1L620 1428.3L623 1423.3L626 1418.1L629 1412.7L632 1407L635 1401.2L638 1395.1L641 1388.8L644 1382.3L647 1375.7L650 1368.9L653 1362L656 1354.9L659 1347.8L662 1340.6L665 1333.4L668 1326.2L671 1319.1L674 1312L677 1305.1L680 1298.3L683 1291.7L686 1285.3L689 1279.2L692 1273.4L695 1268L698 1262.9L701 1258.3L704 1254.2L707 1250.6L710 1247.5L713 1245.1L716 1243.3L719 1242.2L722 1242L725 1242.6L728 1243.8L731 1245.7L734 1248.1L737 1251.2L740 1254.8L743 1258.9L746 1263.6L749 1268.7L752 1274.2L755 1280.2L758 1286.5L761 1293.2L764 1300.1L767 1307.3L770 1314.6L773 1322.2L776 1329.9L779 1337.6L782 1345.4L785 1353.2L788 1361L791 1368.7L794 1376.4L797 1383.9L800 1391.3L803 1398.5L806 1405.5L809 1412.3L812 1418.8L815 1425.2L818 1431.3L821 1437.1L824 1442.6L827 1447.9L830 1452.9L833 1457.6L836 1462.1L839 1466.2L842 1470.2L845 1473.8L848 1477.3L851 1480.5L854 1483.4L857 1486.1L860 1488.7L863 1491L866 1493.1L869 1495L872 1496.8L875 1498.4L878 1499.9L881 1501.2L884 1502.4L887 1503.5L890 1504.4L893 1505.3L896 1506.1L899 1506.8L902 1507.4L905 1507.9L908 1508.4L911 1508.8L914 1509.2L917 1509.5L920 1509.8L923 1510.1L926 1510.3L929 1510.5L932 1510.7L935 1510.8L938 1510.9L941 1511L944 1511.1L947 1511.2L950 1511.3L953 1511.3L956 1511.4L959 1511.4L962 1511.5L965 1511.5L968 1511.6L970.6 1511.6L970.6 1511.7L970 1511.7L960 1511.7L950 1511.6L940 1511.6L930 1511.6L920 1511.6L910 1511.6L900 1511.6L890 1511.6L880 1511.5L870 1511.5L860 1511.4L850 1511.4L840 1511.3L830 1511.2L820 1511L810 1510.7L800 1510.4L790 1509.9L780 1509.4L770 1508.8L760 1508.1L750 1507.3L740 1506.4L730 1505.5L720 1504.6L710 1503.6L700 1502.6L690 1501.5L680 1500.5L670 1499.5L660 1498.7L650 1497.9L640 1497.1L630 1496.4L620 1495.9L610 1495.5L600 1495.2L590 1495.2L580 1495.2L570 1495.3L560 1495.4L550 1495.4L540 1495.4L530 1495.4L520 1495.3L510 1495.3L500 1495.2Z" fill="url(#gd1)"/>
<path d="M500 1495.2C501.7 1495.2 506.7 1495.3 510 1495.3C513.3 1495.3 516.7 1495.3 520 1495.3C523.3 1495.4 526.7 1495.4 530 1495.4C533.3 1495.4 536.7 1495.4 540 1495.4C543.3 1495.4 546.7 1495.4 550 1495.4C553.3 1495.4 556.7 1495.4 560 1495.4C563.3 1495.4 566.7 1495.4 570 1495.3C573.3 1495.3 576.7 1495.3 580 1495.2C583.3 1495.2 586.7 1495.2 590 1495.2C593.3 1495.2 596.7 1495.2 600 1495.2C603.3 1495.3 606.7 1495.3 610 1495.5C613.3 1495.6 616.7 1495.7 620 1495.9C623.3 1496 626.7 1496.2 630 1496.4C633.3 1496.7 636.7 1496.9 640 1497.1C643.3 1497.4 646.7 1497.6 650 1497.9C653.3 1498.1 656.7 1498.4 660 1498.7C663.3 1498.9 666.7 1499.2 670 1499.5C673.3 1499.8 676.7 1500.2 680 1500.5C683.3 1500.8 686.7 1501.2 690 1501.5C693.3 1501.9 696.7 1502.2 700 1502.6C703.3 1502.9 706.7 1503.3 710 1503.6C713.3 1503.9 716.7 1504.3 720 1504.6C723.3 1504.9 726.7 1505.2 730 1505.5C733.3 1505.8 736.7 1506.1 740 1506.4C743.3 1506.7 746.7 1507 750 1507.3C753.3 1507.6 756.7 1507.9 760 1508.1C763.3 1508.4 766.7 1508.6 770 1508.8C773.3 1509 776.7 1509.2 780 1509.4C783.3 1509.6 786.7 1509.8 790 1509.9C793.3 1510.1 796.7 1510.3 800 1510.4C803.3 1510.5 806.7 1510.6 810 1510.7C813.3 1510.8 816.7 1510.9 820 1511C823.3 1511.1 826.7 1511.1 830 1511.2C833.3 1511.2 836.7 1511.2 840 1511.3C843.3 1511.3 846.7 1511.3 850 1511.4C853.3 1511.4 856.7 1511.4 860 1511.4C863.3 1511.5 866.7 1511.5 870 1511.5C873.3 1511.5 876.7 1511.5 880 1511.5C883.3 1511.5 886.7 1511.6 890 1511.6C893.3 1511.6 896.7 1511.6 900 1511.6C903.3 1511.6 906.7 1511.6 910 1511.6C913.3 1511.6 916.7 1511.6 920 1511.6C923.3 1511.6 926.7 1511.6 930 1511.6C933.3 1511.6 936.7 1511.6 940 1511.6C943.3 1511.6 946.7 1511.6 950 1511.6C953.3 1511.6 956.7 1511.7 960 1511.7C963.3 1511.7 968.2 1511.7 970 1511.7C971.8 1511.7 970.5 1511.7 970.6 1511.7" fill="none" stroke="#4d4d4d" stroke-width="3"/>
<g fill="#c0aaaa"><circle cx="170" cy="1483.1" r="2.4"/><circle cx="183.5" cy="1483.2" r="2.4"/><circle cx="197" cy="1484.3" r="2.4"/><circle cx="210.5" cy="1486.5" r="2.4"/><circle cx="224" cy="1486.8" r="2.4"/><circle cx="237.5" cy="1489" r="2.4"/><circle cx="251" cy="1490.4" r="2.4"/><circle cx="264.5" cy="1490.4" r="2.4"/><circle cx="278" cy="1490.8" r="2.4"/><circle cx="291.5" cy="1491.4" r="2.4"/><circle cx="305" cy="1492" r="2.4"/><circle cx="318.5" cy="1492.2" r="2.4"/><circle cx="332" cy="1491.9" r="2.4"/><circle cx="345.5" cy="1491.9" r="2.4"/><circle cx="359" cy="1490.9" r="2.4"/><circle cx="372.5" cy="1491.2" r="2.4"/><circle cx="386" cy="1491.7" r="2.4"/><circle cx="399.5" cy="1493.1" r="2.4"/><circle cx="413" cy="1492.6" r="2.4"/><circle cx="426.5" cy="1493.4" r="2.4"/><circle cx="440" cy="1492.5" r="2.4"/><circle cx="453.5" cy="1492.9" r="2.4"/><circle cx="467" cy="1493.5" r="2.4"/><circle cx="480.5" cy="1494.5" r="2.4"/><circle cx="494" cy="1494.7" r="2.4"/><circle cx="507.5" cy="1494.8" r="2.4"/><circle cx="521" cy="1494.1" r="2.4"/><circle cx="534.5" cy="1494.6" r="2.4"/><circle cx="548" cy="1494.5" r="2.4"/></g>
<g fill="#a6a6a6"><circle cx="562" cy="1489.8" r="3.5"/><circle cx="576.3" cy="1485.6" r="3.5"/><circle cx="590" cy="1477.6" r="3.5"/><circle cx="603.7" cy="1462" r="3.5"/><circle cx="617" cy="1432" r="3.5"/><circle cx="630" cy="1393" r="3.5"/><circle cx="644" cy="1338.7" r="3.5"/><circle cx="657.4" cy="1299" r="3.5"/><circle cx="671" cy="1275.7" r="3.5"/><circle cx="684.3" cy="1262.4" r="3.5"/><circle cx="711.4" cy="1259" r="3.5"/><circle cx="724.7" cy="1247.7" r="3.5"/><circle cx="738.8" cy="1235.6" r="3.5"/><circle cx="752.4" cy="1243.5" r="3.5"/><circle cx="765.7" cy="1283.6" r="3.5"/><circle cx="779" cy="1335" r="3.5"/><circle cx="792.5" cy="1385" r="3.5"/><circle cx="806.7" cy="1424.8" r="3.5"/><circle cx="820" cy="1452" r="3.5"/><circle cx="833.5" cy="1478.5" r="3.5"/><circle cx="847" cy="1494" r="3.5"/><circle cx="860.4" cy="1503" r="3.5"/><circle cx="874" cy="1506.8" r="3.5"/><circle cx="887.8" cy="1508.7" r="3.5"/><circle cx="901.5" cy="1509.5" r="3.5"/><circle cx="915" cy="1510.5" r="3.5"/><circle cx="928.5" cy="1511" r="3.5"/><circle cx="942" cy="1511" r="3.5"/><circle cx="955.5" cy="1511" r="3.5"/></g>
<path d="M162 1484L165 1484.2L168 1484.3L171 1484.4L174 1484.5L177 1484.6L180 1484.7L183 1484.8L186 1484.9L189 1485.1L192 1485.2L195 1485.4L198 1485.6L201 1485.8L204 1486.1L207 1486.4L210 1486.7L213 1487.1L216 1487.4L219 1487.8L222 1488.1L225 1488.3L228 1488.6L231 1488.8L234 1489L237 1489.2L240 1489.5L243 1489.7L246 1489.9L249 1490.1L252 1490.4L255 1490.6L258 1490.8L261 1491L264 1491.2L267 1491.3L270 1491.5L273 1491.6L276 1491.8L279 1491.9L282 1492L285 1492.1L288 1492.1L291 1492.2L294 1492.3L297 1492.3L300 1492.4L303 1492.4L306 1492.4L309 1492.4L312 1492.4L315 1492.5L318 1492.5L321 1492.5L324 1492.5L327 1492.5L330 1492.5L333 1492.5L336 1492.5L339 1492.5L342 1492.5L345 1492.5L348 1492.5L351 1492.5L354 1492.5L357 1492.5L360 1492.5L363 1492.5L366 1492.6L369 1492.6L372 1492.7L375 1492.7L378 1492.8L381 1492.9L384 1492.9L387 1493L390 1493.1L393 1493.2L396 1493.3L399 1493.4L402 1493.4L405 1493.5L408 1493.6L411 1493.7L414 1493.8L417 1493.8L420 1493.9L423 1494L426 1494L429 1494.1L432 1494.1L435 1494.2L438 1494.2L441 1494.3L444 1494.3L447 1494.4L450 1494.4L453 1494.5L456 1494.5L459 1494.5L462 1494.6L465 1494.6L468 1494.6L471 1494.6L474 1494.6L477 1494.7L480 1494.6L483 1494.6L486 1494.6L489 1494.6L492 1494.5L495 1494.5L498 1494.4L501 1494.3L504 1494.2L507 1494.1L510 1494L513 1493.8L516 1493.6L519 1493.3L522 1493.1L525 1492.7L528 1492.4L531 1492L534 1491.5L537 1491L540 1490.5L543 1489.8L546 1489.1L549 1488.4L552 1487.5L555 1486.6L558 1485.5L561 1484.4L564 1483.1L567 1481.7L570 1480.1L573 1478.4L576 1476.6L579 1474.6L582 1472.4L585 1470.1L588 1467.6L591 1464.9L594 1462L597 1458.9L600 1455.7L603 1452.2L606 1448.5L609 1444.6L612 1440.4L615 1436.1L618 1431.5L621 1426.7L624 1421.6L627 1416.3L630 1410.8L633 1405.1L636 1399.1L639 1393L642 1386.6L645 1380.1L648 1373.4L651 1366.6L654 1359.6L657 1352.6L660 1345.4L663 1338.2L666 1331L669 1323.8L672 1316.7L675 1309.7L678 1302.8L681 1296L684 1289.5L687 1283.2L690 1277.2L693 1271.5L696 1266.2L699 1261.3L702 1256.9L705 1252.9L708 1249.5L711 1246.7L714 1244.4L717 1242.9L720 1242.1L723 1242.1L726 1242.9L729 1244.4L732 1246.4L735 1249.1L738 1252.3L741 1256.1L744 1260.4L747 1265.2L750 1270.5L753 1276.2L756 1282.3L759 1288.7L762 1295.4L765 1302.5L768 1309.7L771 1317.1L774 1324.7L777 1332.4L780 1340.2L783 1348L786 1355.8L789 1363.6L792 1371.3L795 1378.9L798 1386.4L801 1393.7L804 1400.8L807 1407.8L810 1414.5L813 1421L816 1427.2L819 1433.2L822 1438.9L825 1444.4L828 1449.6L831 1454.5L834 1459.1L837 1463.5L840 1467.6L843 1471.4L846 1475L849 1478.4L852 1481.5L855 1484.3L858 1487L861 1489.4L864 1491.7L867 1493.8L870 1495.6L873 1497.4L876 1498.9L879 1500.3L882 1501.6L885 1502.8L888 1503.8L891 1504.7L894 1505.6L897 1506.3L900 1507L903 1507.6L906 1508.1L909 1508.6L912 1509L915 1509.3L918 1509.6L921 1509.9L924 1510.1L927 1510.4L930 1510.5L933 1510.7L936 1510.8L939 1511L942 1511.1L945 1511.2L948 1511.2L951 1511.3L954 1511.4L957 1511.4L960 1511.5L963 1511.5L966 1511.5L969 1511.6L970.6 1511.6" fill="none" stroke="#ff0000" stroke-width="3.6" stroke-linejoin="round"/>
<rect x="161.1" y="1133.5" width="811.6" height="441.6" fill="none" stroke="#000" stroke-width="3.8"/>
<path d="M341.2 1575.1V1564.6M566.5 1575.1V1564.6M791.8 1575.1V1564.6" stroke="#000" stroke-width="3.8" fill="none"/>
<path d="M228.5 1575.1V1569.6M453.9 1575.1V1569.6M679.2 1575.1V1569.6M904.5 1575.1V1569.6" stroke="#000" stroke-width="3.8" fill="none"/>
<text x="315.6" y="1614.7" font-size="35.3" textLength="51.2" lengthAdjust="spacingAndGlyphs" class="r" fill="#1c1c1c">540</text>
<text x="540.9" y="1614.7" font-size="35.3" textLength="51.2" lengthAdjust="spacingAndGlyphs" class="r" fill="#1c1c1c">535</text>
<text x="766.2" y="1614.7" font-size="35.3" textLength="51.2" lengthAdjust="spacingAndGlyphs" class="r" fill="#1c1c1c">530</text>
<text x="417.5" y="1673.5" font-size="36" textLength="298.7" lengthAdjust="spacingAndGlyphs" class="r" fill="#1c1c1c">Binding energy (eV)</text>
<text transform="translate(135.7 1460) rotate(-90)" x="0" y="0" font-size="36" textLength="211" lengthAdjust="spacingAndGlyphs" class="r" fill="#1c1c1c">Intensity (a.u.)</text>
<path d="M197 1180.8H248" stroke="#ff0000" stroke-width="7" stroke-linecap="round" fill="none"/>
<text x="262.3" y="1191.2" font-size="28.3" textLength="141.3" lengthAdjust="spacingAndGlyphs" class="r" fill="#1c1c1c">530eV(O1s)</text>
<text x="18.1" y="1210" font-size="80" textLength="95.2" lengthAdjust="spacingAndGlyphs" font-weight="bold" class="b" fill="#000">(d)</text>
<path d="M1425 1519.6L1427 1519.5L1429 1519.4L1431 1519.3L1433 1519.1L1435 1518.9L1437 1518.5L1439 1518.1L1441 1517.6L1443 1516.9L1445 1516L1447 1514.9L1449 1513.4L1451 1511.6L1453 1509.4L1455 1506.8L1457 1503.5L1459 1499.7L1461 1495.3L1463 1490.1L1465 1484.2L1467 1477.7L1469 1470.4L1471 1462.5L1473 1454L1475 1445.1L1477 1436L1479 1426.7L1481 1417.5L1483 1408.6L1485 1400.3L1487 1392.7L1489 1386.2L1491 1380.9L1493 1376.9L1495 1374.4L1497 1373.6L1499 1374.3L1501 1376.6L1503 1380.4L1505 1385.6L1507 1392L1509 1399.5L1511 1407.7L1513 1416.5L1515 1425.7L1517 1435L1519 1444.2L1521 1453.1L1523 1461.6L1525 1469.5L1527 1476.8L1529 1483.5L1531 1489.4L1533 1494.6L1535 1499.1L1537 1503L1539 1506.2L1541 1508.9L1543 1511.1L1545 1512.9L1547 1514.4L1549 1515.5L1551 1516.4L1553 1517.1L1555 1517.6L1557 1518L1559 1518.2L1561 1518.4L1563 1518.6L1565 1518.7L1567 1518.8L1569 1518.8L1570 1518.8L1570 1518.9L1425 1519.7Z" fill="url(#ge1)"/>
<path d="M1545 1518.7L1546.5 1518.6L1548 1518.4L1549.5 1518.1L1551 1517.7L1552.5 1517L1554 1516.2L1555.5 1515L1557 1513.4L1558.5 1511.3L1560 1508.5L1561.5 1505L1563 1500.5L1564.5 1495L1566 1488.2L1567.5 1480.1L1569 1470.6L1570.5 1459.7L1572 1447.4L1573.5 1433.7L1575 1419L1576.5 1403.5L1578 1387.6L1579.5 1371.7L1581 1356.2L1582.5 1341.8L1584 1329L1585.5 1318.3L1587 1310.1L1588.5 1304.7L1590 1302.5L1591.5 1303.4L1593 1307.5L1594.5 1314.6L1596 1324.4L1597.5 1336.5L1599 1350.3L1600.5 1365.4L1602 1381.2L1603.5 1397.1L1605 1412.9L1606.5 1427.9L1608 1442L1609.5 1454.8L1611 1466.3L1612.5 1476.4L1614 1485L1615.5 1492.3L1617 1498.3L1618.5 1503.2L1620 1507.1L1621.5 1510.2L1623 1512.5L1624.5 1514.3L1626 1515.6L1627.5 1516.6L1629 1517.3L1630.5 1517.8L1632 1518.1L1633.5 1518.4L1635 1518.5L1636.5 1518.6L1638 1518.7L1639.5 1518.7L1640 1518.7L1640 1518.8L1545 1519Z" fill="url(#ge2)"/>
<path d="M1430 1520.2L1640 1519.3" stroke="#4d4d4d" stroke-width="3" fill="none"/>
<path d="M1425 1519.6L1427 1519.5L1429 1519.4L1431 1519.3L1433 1519.1L1435 1518.9L1437 1518.5L1439 1518.1L1441 1517.6L1443 1516.9L1445 1516L1447 1514.9L1449 1513.4L1451 1511.6L1453 1509.4L1455 1506.8L1457 1503.5L1459 1499.7L1461 1495.3L1463 1490.1L1465 1484.2L1467 1477.7L1469 1470.4L1471 1462.5L1473 1454L1475 1445.1L1477 1436L1479 1426.7L1481 1417.5L1483 1408.6L1485 1400.3L1487 1392.7L1489 1386.2L1491 1380.9L1493 1376.9L1495 1374.4L1497 1373.6L1499 1374.3L1501 1376.6L1503 1380.4L1505 1385.6L1507 1392L1509 1399.5L1511 1407.7L1513 1416.5L1515 1425.7L1517 1435L1519 1444.2L1521 1453.1L1523 1461.6L1525 1469.5L1527 1476.8L1529 1483.5L1531 1489.4L1533 1494.6L1535 1499.1L1537 1503L1539 1506.2L1541 1508.9L1543 1511.1L1545 1512.9L1547 1514.4L1549 1515.5L1551 1516.4L1553 1517.1L1555 1517.6L1557 1518L1559 1518.2L1561 1518.4L1563 1518.6L1565 1518.7L1567 1518.8L1569 1518.8L1570 1518.8" fill="none" stroke="#4d4d4d" stroke-width="3.2"/>
<g fill="#a6a6a6"><circle cx="1096.5" cy="1463.1" r="3.5"/><circle cx="1109.2" cy="1460.2" r="3.5"/><circle cx="1122.5" cy="1492.7" r="3.5"/><circle cx="1135.8" cy="1441.3" r="3.5"/><circle cx="1149.4" cy="1473.8" r="3.5"/><circle cx="1162.4" cy="1420.7" r="3.5"/><circle cx="1175.7" cy="1459.4" r="3.5"/><circle cx="1188.9" cy="1449.5" r="3.5"/><circle cx="1201.9" cy="1465.9" r="3.5"/><circle cx="1215.2" cy="1430.3" r="3.5"/><circle cx="1228.5" cy="1432.8" r="3.5"/><circle cx="1241.8" cy="1439.9" r="3.5"/><circle cx="1254.8" cy="1483.7" r="3.5"/><circle cx="1268.1" cy="1499" r="3.5"/><circle cx="1281.1" cy="1494.1" r="3.5"/><circle cx="1294.4" cy="1536.8" r="3.5"/><circle cx="1307.7" cy="1497" r="3.5"/><circle cx="1320.9" cy="1500.4" r="3.5"/><circle cx="1333.9" cy="1467.3" r="3.5"/><circle cx="1347.2" cy="1484.8" r="3.5"/><circle cx="1360.5" cy="1480.9" r="3.5"/><circle cx="1373.8" cy="1475.2" r="3.5"/><circle cx="1386.8" cy="1516.8" r="3.5"/><circle cx="1400.1" cy="1505.5" r="3.5"/><circle cx="1413.4" cy="1506" r="3.5"/><circle cx="1426.6" cy="1481.7" r="3.5"/><circle cx="1439.9" cy="1478.3" r="3.5"/><circle cx="1453.2" cy="1462.5" r="3.5"/><circle cx="1442" cy="1478.6" r="3.5"/><circle cx="1453.3" cy="1462.5" r="3.5"/><circle cx="1466.6" cy="1414.4" r="3.5"/><circle cx="1532.4" cy="1463.9" r="3.5"/><circle cx="1545.7" cy="1444.7" r="3.5"/><circle cx="1559" cy="1461.6" r="3.5"/><circle cx="1572" cy="1417" r="3.5"/><circle cx="1611.6" cy="1418.4" r="3.5"/><circle cx="1624.9" cy="1410.8" r="3.5"/><circle cx="1638.2" cy="1490.8" r="3.5"/><circle cx="1651.4" cy="1512.5" r="3.5"/><circle cx="1664.7" cy="1534.3" r="3.5"/><circle cx="1678" cy="1505.2" r="3.5"/><circle cx="1691" cy="1471.5" r="3.5"/><circle cx="1704.3" cy="1518.2" r="3.5"/><circle cx="1717.6" cy="1472.1" r="3.5"/><circle cx="1730.6" cy="1500.1" r="3.5"/><circle cx="1743.9" cy="1461.4" r="3.5"/><circle cx="1757.1" cy="1473.5" r="3.5"/><circle cx="1770.4" cy="1487.6" r="3.5"/><circle cx="1783.4" cy="1484.3" r="3.5"/><circle cx="1796.7" cy="1511.1" r="3.5"/><circle cx="1810" cy="1527.2" r="3.5"/><circle cx="1823.3" cy="1524.4" r="3.5"/><circle cx="1836.3" cy="1482.8" r="3.5"/><circle cx="1849.6" cy="1529.8" r="3.5"/><circle cx="1862.9" cy="1501.8" r="3.5"/><circle cx="1875.9" cy="1488.5" r="3.5"/></g>
<g fill="#e8dcc0"><circle cx="1479.6" cy="1436.2" r="2.4"/><circle cx="1492.9" cy="1420.7" r="2.4"/><circle cx="1506.2" cy="1401.7" r="2.4"/></g>
<g fill="#a6a6a6"><circle cx="1519.2" cy="1418.7" r="3"/></g>
<g fill="#c8d8c8"><circle cx="1585.3" cy="1346.7" r="2"/><circle cx="1597.5" cy="1372.8" r="2"/></g>
<path d="M1088.8 1578V1493.5" stroke="#ff0000" stroke-width="2" fill="none"/>
<path d="M1088 1493.4L1100 1493.9L1112 1494.5L1124 1495.2L1136 1496.2L1148 1497.7L1160 1499.5L1172 1501.5L1184 1503.7L1196 1505.5L1208 1507.1L1220 1508.7L1232 1510.5L1244 1511.8L1256 1512.7L1268 1513.5L1280 1514.2L1292 1514.9L1304 1515.6L1316 1516.5L1328 1517.3L1340 1518.1L1352 1518.8L1364 1519.4L1376 1519.7L1388 1519.9L1400 1520L1412 1519.9L1424 1519.8L1436 1519.5L1448 1519.3L1460 1519.2L1472 1519.1L1484 1519.1L1496 1519.1L1508 1519L1520 1519L1532 1519L1544 1519L1545 1519L1545 1518.7L1546.5 1518.6L1548 1518.4L1549.5 1518.1L1551 1517.7L1552.5 1517L1554 1516.2L1555.5 1515L1557 1513.4L1558.5 1511.3L1560 1508.5L1561.5 1505L1563 1500.5L1564.5 1495L1566 1488.2L1567.5 1480.1L1569 1470.6L1570.5 1459.7L1572 1447.4L1573.5 1433.7L1575 1419L1576.5 1403.5L1578 1387.6L1579.5 1371.7L1581 1356.2L1582.5 1341.8L1584 1329L1585.5 1318.3L1587 1310.1L1588.5 1304.7L1590 1302.5L1591.5 1303.4L1593 1307.5L1594.5 1314.6L1596 1324.4L1597.5 1336.5L1599 1350.3L1600.5 1365.4L1602 1381.2L1603.5 1397.1L1605 1412.9L1606.5 1427.9L1608 1442L1609.5 1454.8L1611 1466.3L1612.5 1476.4L1614 1485L1615.5 1492.3L1617 1498.3L1618.5 1503.2L1620 1507.1L1621.5 1510.2L1623 1512.5L1624.5 1514.3L1626 1515.6L1627.5 1516.6L1629 1517.3L1630.5 1517.8L1632 1518.1L1633.5 1518.4L1635 1518.5L1636.5 1518.6L1638 1518.7L1639.5 1518.7L1640 1518.7L1640 1518.8L1652 1518.8L1664 1518.8L1676 1518.8L1688 1518.8L1700 1518.8L1712 1518.8L1724 1518.7L1736 1518.6L1748 1518.5L1760 1518.4L1772 1518.2L1784 1518L1796 1517.9L1808 1517.6L1820 1517.4L1832 1517L1844 1516.7L1856 1516.3L1868 1515.9L1878.7 1515.6" fill="none" stroke="#ff0000" stroke-width="3.6" stroke-linejoin="round"/>
<rect x="1087.2" y="1149.5" width="792.6" height="430.4" fill="none" stroke="#000" stroke-width="3.8"/>
<path d="M1263.3 1579.9V1569.4M1483.7 1579.9V1569.4M1704.1 1579.9V1569.4" stroke="#000" stroke-width="3.8" fill="none"/>
<path d="M1153.1 1579.9V1574.4M1373.5 1579.9V1574.4M1593.9 1579.9V1574.4M1814.3 1579.9V1574.4" stroke="#000" stroke-width="3.8" fill="none"/>
<text x="1239" y="1618.5" font-size="34.5" textLength="48.5" lengthAdjust="spacingAndGlyphs" class="r" fill="#1c1c1c">190</text>
<text x="1459.5" y="1618.5" font-size="34.5" textLength="48.5" lengthAdjust="spacingAndGlyphs" class="r" fill="#1c1c1c">185</text>
<text x="1679.8" y="1618.5" font-size="34.5" textLength="48.5" lengthAdjust="spacingAndGlyphs" class="r" fill="#1c1c1c">180</text>
<text x="1338" y="1676.5" font-size="35.4" textLength="292" lengthAdjust="spacingAndGlyphs" class="r" fill="#1c1c1c">Binding energy (eV)</text>
<text transform="translate(1061 1465.9) rotate(-90)" x="0" y="0" font-size="35.4" textLength="204.9" lengthAdjust="spacingAndGlyphs" class="r" fill="#1c1c1c">Intensity (a.u.)</text>
<path d="M1112.5 1192.4H1162.5" stroke="#ff0000" stroke-width="7" stroke-linecap="round" fill="none"/>
<text x="1179" y="1201.7" font-size="27.8" textLength="181" lengthAdjust="spacingAndGlyphs" class="r" fill="#1c1c1c">182ev(Zr 3d5/2)</text>
<path d="M1112.5 1248.4H1162.5" stroke="#4d4d4d" stroke-width="7" stroke-linecap="round" fill="none"/>
<text x="1179" y="1258.3" font-size="27.8" textLength="208.4" lengthAdjust="spacingAndGlyphs" class="r" fill="#1c1c1c">184.6eV(Zr 3d3/2)</text>
<text x="993.7" y="1210.5" font-size="80" textLength="83.6" lengthAdjust="spacingAndGlyphs" font-weight="bold" class="b" fill="#000">(e)</text>
<path d="M490 2095L492 2095L494 2095L496 2095L498 2095L500 2094.9L502 2094.9L504 2094.9L506 2094.8L508 2094.7L510 2094.6L512 2094.5L514 2094.4L516 2094.3L518 2094.2L520 2094L522 2093.8L524 2093.6L526 2093.4L528 2093.2L530 2092.9L532 2092.5L534 2092.1L536 2091.7L538 2091.1L540 2090.4L542 2089.6L544 2088.7L546 2087.6L548 2086.4L550 2085L552 2083.4L554 2081.5L556 2079.4L558 2077L560 2074.3L562 2071.2L564 2067.8L566 2064L568 2059.8L570 2055.2L572 2050.1L574 2044.6L576 2038.5L578 2031.9L580 2024.8L582 2017.2L584 2009.1L586 2000.4L588 1991.3L590 1981.6L592 1971.5L594 1961L596 1950L598 1938.8L600 1927.2L602 1915.5L604 1903.6L606 1891.6L608 1879.7L610 1867.9L612 1856.3L614 1845L616 1834.1L618 1823.7L620 1813.9L622 1804.8L624 1796.5L626 1789.1L628 1782.7L630 1777.2L632 1772.9L634 1769.7L636 1767.7L638 1766.9L640 1767.4L642 1769.2L644 1772.1L646 1776.2L648 1781.4L650 1787.7L652 1794.9L654 1803.1L656 1812.1L658 1821.9L660 1832.3L662 1843.2L664 1854.6L666 1866.3L668 1878.2L670 1890.3L672 1902.5L674 1914.6L676 1926.6L678 1938.3L680 1949.9L682 1961.1L684 1971.9L686 1982.3L688 1992.2L690 2001.6L692 2010.5L694 2018.9L696 2026.8L698 2034.1L700 2040.9L702 2047.1L704 2052.9L706 2058.1L708 2062.9L710 2067.3L712 2071.2L714 2074.7L716 2077.8L718 2080.6L720 2083.1L722 2085.3L724 2087.3L726 2089L728 2090.5L730 2091.7L732 2092.9L734 2093.8L736 2094.6L738 2095.4L740 2096L742 2096.5L744 2096.9L746 2097.3L748 2097.6L750 2097.9L752 2098.1L754 2098.3L756 2098.4L758 2098.5L760 2098.6L762 2098.7L764 2098.8L766 2098.9L768 2098.9L770 2099L772 2099L774 2099L776 2099.1L778 2099.1L780 2099.1L782 2099.1L784 2099.1L786 2099.1L788 2099.2L790 2099.2L792 2099.2L794 2099.2L796 2099.2L798 2099.2L800 2099.2Z" fill="url(#gf1)"/>
<path d="M528 2095L669.6 2098.5L760 2099.5" stroke="#4d4d4d" stroke-width="3" fill="none"/>
<g fill="#c0aaaa"><circle cx="168" cy="2089.3" r="2.4"/><circle cx="181.4" cy="2089.9" r="2.4"/><circle cx="194.9" cy="2090.5" r="2.4"/><circle cx="208.3" cy="2091.1" r="2.4"/><circle cx="221.8" cy="2091.7" r="2.4"/><circle cx="235.2" cy="2092.3" r="2.4"/><circle cx="248.7" cy="2092.8" r="2.4"/><circle cx="262.1" cy="2093.3" r="2.4"/><circle cx="275.6" cy="2093.7" r="2.4"/><circle cx="289" cy="2093.9" r="2.4"/><circle cx="302.5" cy="2094" r="2.4"/><circle cx="315.9" cy="2094" r="2.4"/><circle cx="329.4" cy="2094.1" r="2.4"/><circle cx="342.8" cy="2094.1" r="2.4"/><circle cx="356.3" cy="2094.2" r="2.4"/><circle cx="369.7" cy="2094.2" r="2.4"/><circle cx="383.2" cy="2094.2" r="2.4"/><circle cx="396.6" cy="2094.2" r="2.4"/><circle cx="410.1" cy="2094.2" r="2.4"/><circle cx="423.5" cy="2094.2" r="2.4"/><circle cx="437" cy="2094.3" r="2.4"/><circle cx="450.4" cy="2094.3" r="2.4"/><circle cx="463.9" cy="2094.3" r="2.4"/><circle cx="477.3" cy="2094.2" r="2.4"/><circle cx="490.8" cy="2094.2" r="2.4"/></g>
<g fill="#a6a6a6"><circle cx="504.5" cy="2091" r="3.5"/><circle cx="518" cy="2088" r="3.5"/><circle cx="531.5" cy="2084.5" r="3.5"/><circle cx="545" cy="2077" r="3.5"/><circle cx="558.5" cy="2062.5" r="3.5"/><circle cx="572" cy="2035.5" r="3.5"/><circle cx="585.5" cy="1988.5" r="3.5"/><circle cx="599" cy="1920" r="3.5"/><circle cx="612.5" cy="1843" r="3.5"/><circle cx="626" cy="1783" r="3.5"/><circle cx="639.5" cy="1764" r="3.5"/><circle cx="653" cy="1803" r="3.5"/><circle cx="666.5" cy="1873" r="3.5"/><circle cx="680" cy="1952.5" r="3.5"/><circle cx="693.5" cy="2013.5" r="3.5"/><circle cx="707" cy="2054" r="3.5"/><circle cx="720.5" cy="2075" r="3.5"/><circle cx="734" cy="2084.5" r="3.5"/><circle cx="747.5" cy="2088.5" r="3.5"/><circle cx="761" cy="2091" r="3.5"/><circle cx="774.5" cy="2092.5" r="3.5"/><circle cx="788" cy="2093.5" r="3.5"/><circle cx="801.5" cy="2094" r="3.5"/><circle cx="815" cy="2095" r="3.5"/><circle cx="828.5" cy="2095.5" r="3.5"/><circle cx="842" cy="2097" r="3.5"/><circle cx="855.5" cy="2098.5" r="3.5"/><circle cx="869" cy="2099" r="3.5"/><circle cx="882.5" cy="2099.5" r="3.5"/><circle cx="896" cy="2099.5" r="3.5"/><circle cx="909.5" cy="2099.5" r="3.5"/><circle cx="923" cy="2099.5" r="3.5"/><circle cx="936.5" cy="2099.5" r="3.5"/><circle cx="950" cy="2099.5" r="3.5"/></g>
<path d="M162 2089.8L165 2090L168 2090.1L171 2090.2L174 2090.4L177 2090.5L180 2090.6L183 2090.8L186 2090.9L189 2091L192 2091.1L195 2091.3L198 2091.4L201 2091.5L204 2091.7L207 2091.8L210 2092L213 2092.1L216 2092.2L219 2092.4L222 2092.5L225 2092.7L228 2092.8L231 2092.9L234 2093.1L237 2093.2L240 2093.3L243 2093.4L246 2093.5L249 2093.6L252 2093.8L255 2093.9L258 2094L261 2094.1L264 2094.2L267 2094.3L270 2094.4L273 2094.4L276 2094.5L279 2094.6L282 2094.6L285 2094.6L288 2094.7L291 2094.7L294 2094.7L297 2094.7L300 2094.8L303 2094.8L306 2094.8L309 2094.8L312 2094.8L315 2094.8L318 2094.9L321 2094.9L324 2094.9L327 2094.9L330 2094.9L333 2094.9L336 2094.9L339 2094.9L342 2094.9L345 2094.9L348 2094.9L351 2094.9L354 2094.9L357 2095L360 2095L363 2095L366 2095L369 2095L372 2095L375 2095L378 2095L381 2095L384 2095L387 2095L390 2095L393 2095L396 2095L399 2095L402 2095L405 2095L408 2095L411 2095L414 2095L417 2095L420 2095L423 2095L426 2095L429 2095L432 2095L435 2095.1L438 2095.1L441 2095.1L444 2095.1L447 2095.1L450 2095.1L453 2095.1L456 2095.1L459 2095.1L462 2095.1L465 2095.1L468 2095.1L471 2095.1L474 2095.1L477 2095L480 2095L483 2095L486 2095L489 2095L492 2095L495 2095L498 2095L501 2094.9L504 2094.9L507 2094.8L510 2094.6L513 2094.5L516 2094.3L519 2094.1L522 2093.8L525 2093.5L528 2093.2L531 2092.7L534 2092.1L537 2091.4L540 2090.4L543 2089.2L546 2087.6L549 2085.7L552 2083.4L555 2080.5L558 2077L561 2072.8L564 2067.8L567 2062L570 2055.2L573 2047.4L576 2038.5L579 2028.5L582 2017.2L585 2004.8L588 1991.3L591 1976.6L594 1961L597 1944.4L600 1927.2L603 1909.5L606 1891.6L609 1873.8L612 1856.3L615 1839.5L618 1823.7L621 1809.3L624 1796.5L627 1785.8L630 1777.2L633 1771.1L636 1767.7L639 1767L642 1769.2L645 1774L648 1781.4L651 1791.2L654 1803.1L657 1816.9L660 1832.3L663 1848.8L666 1866.3L669 1884.3L672 1902.5L675 1920.6L678 1938.3L681 1955.5L684 1971.9L687 1987.3L690 2001.6L693 2014.8L696 2026.8L699 2037.5L702 2047.1L705 2055.6L708 2062.9L711 2069.3L714 2074.7L717 2079.3L720 2083.1L723 2086.3L726 2089L729 2091.1L732 2092.9L735 2094.3L738 2095.4L741 2096.2L744 2096.9L747 2097.4L750 2097.9L753 2098.2L756 2098.4L759 2098.6L762 2098.7L765 2098.8L768 2098.9L771 2099L774 2099L777 2099.1L780 2099.1L783 2099.1L786 2099.1L789 2099.2L792 2099.2L795 2099.2L798 2099.2L801 2099.2L804 2099.2L807 2099.2L810 2099.3L813 2099.3L816 2099.3L819 2099.3L822 2099.3L825 2099.3L828 2099.3L831 2099.3L834 2099.3L837 2099.3L840 2099.4L843 2099.4L846 2099.4L849 2099.4L852 2099.4L855 2099.4L858 2099.4L861 2099.4L864 2099.4L867 2099.4L870 2099.4L873 2099.4L876 2099.5L879 2099.5L882 2099.5L885 2099.5L888 2099.5L891 2099.5L894 2099.5L897 2099.5L900 2099.5L903 2099.5L906 2099.5L909 2099.5L912 2099.5L915 2099.6L918 2099.6L921 2099.6L924 2099.6L927 2099.6L930 2099.6L933 2099.6L936 2099.6L939 2099.6L942 2099.6L945 2099.6L948 2099.6L951 2099.7L954 2099.7L957 2099.7L960 2099.7L963 2099.7L965 2099.7" fill="none" stroke="#ff0000" stroke-width="3.6" stroke-linejoin="round"/>
<rect x="161.1" y="1718" width="806.4" height="436.5" fill="none" stroke="#000" stroke-width="3.8"/>
<path d="M294.6 2154.5V2144M518.8 2154.5V2144M743 2154.5V2144" stroke="#000" stroke-width="3.8" fill="none"/>
<path d="M182.5 2154.5V2149M406.7 2154.5V2149M630.9 2154.5V2149M855.1 2154.5V2149" stroke="#000" stroke-width="3.8" fill="none"/>
<text x="268.9" y="2193.8" font-size="35.3" textLength="51.5" lengthAdjust="spacingAndGlyphs" class="r" fill="#1c1c1c">695</text>
<text x="493" y="2193.8" font-size="35.3" textLength="51.5" lengthAdjust="spacingAndGlyphs" class="r" fill="#1c1c1c">690</text>
<text x="717.2" y="2193.8" font-size="35.3" textLength="51.5" lengthAdjust="spacingAndGlyphs" class="r" fill="#1c1c1c">685</text>
<text x="941.4" y="2193.8" font-size="35.3" textLength="51.5" lengthAdjust="spacingAndGlyphs" class="r" fill="#1c1c1c">680</text>
<text x="416" y="2252.3" font-size="36" textLength="296.5" lengthAdjust="spacingAndGlyphs" class="r" fill="#1c1c1c">Binding energy (eV)</text>
<text transform="translate(135.7 2039) rotate(-90)" x="0" y="0" font-size="36" textLength="208" lengthAdjust="spacingAndGlyphs" class="r" fill="#1c1c1c">Intensity (a.u.)</text>
<path d="M214 1777.3H263.5" stroke="#ff0000" stroke-width="7" stroke-linecap="round" fill="none"/>
<text x="271.3" y="1787.2" font-size="28" textLength="135.7" lengthAdjust="spacingAndGlyphs" class="r" fill="#1c1c1c">688eV(F1s)</text>
<text x="18.1" y="1790.5" font-size="80" textLength="75.4" lengthAdjust="spacingAndGlyphs" font-weight="bold" class="b" fill="#000">(f)</text>
<path d="M1163.1 2074.5C1167 2073.6 1178.9 2071.8 1186.8 2069.3C1194.7 2066.9 1202.7 2063.8 1210.6 2059.8C1218.5 2055.8 1226.4 2051.2 1234.3 2045.5C1242.2 2039.8 1250.2 2032.5 1258.1 2025.4C1266 2018.3 1273.9 2009.7 1281.8 2002.8C1289.7 1995.9 1298.8 1988.3 1305.5 1983.8C1312.2 1979.2 1317 1977.2 1322.2 1975.5C1327.4 1973.8 1331.7 1973.7 1336.4 1973.8C1341.2 1973.9 1346 1974.5 1350.7 1976.2C1355.5 1977.9 1358.6 1979 1364.9 1983.8C1371.2 1988.6 1380.7 1997.7 1388.6 2005.2C1396.5 2012.7 1404.8 2021.8 1412.4 2028.9C1420 2036 1428.2 2043 1434.2 2047.9C1440.2 2052.8 1443 2055.4 1448.5 2058.6C1454 2061.8 1464.3 2065.5 1467.5 2066.9Z" fill="url(#gg2)"/>
<path d="M1422 2074.4C1424 2073.9 1429.8 2073.1 1434.2 2071.7C1438.6 2070.2 1444.1 2068.1 1448.5 2065.7C1452.9 2063.3 1456.5 2061.2 1460.4 2057.4C1464.4 2053.7 1468.2 2049.1 1472.2 2043.2C1476.2 2037.3 1480.5 2028.9 1484.1 2021.8C1487.7 2014.7 1490.4 2008.3 1493.6 2000.4C1496.8 1992.5 1499.5 1984.6 1503.1 1974.3C1506.7 1964 1511.4 1949.8 1515 1938.7C1518.6 1927.6 1521.3 1918.1 1524.5 1907.8C1527.7 1897.5 1530.8 1885.7 1534 1877C1537.2 1868.3 1540.7 1860.5 1543.5 1855.6C1546.3 1850.6 1548.7 1849 1550.6 1847.3C1552.5 1845.6 1553.3 1845.6 1554.9 1845.6C1556.5 1845.6 1557.6 1844.4 1560.1 1847.3C1562.5 1850.2 1566.4 1855.8 1569.6 1862.7C1572.8 1869.6 1575.9 1879.3 1579.1 1888.8C1582.3 1898.3 1585.4 1909 1588.6 1919.7C1591.8 1930.4 1594.9 1941.9 1598.1 1953C1601.3 1964.1 1604.4 1975.9 1607.6 1986.2C1610.8 1996.5 1613.8 2006.4 1617 2014.7C1620.2 2023 1622.9 2029.3 1626.5 2036C1630.1 2042.7 1634 2049.8 1638.4 2055C1642.8 2060.2 1647.6 2063.8 1652.7 2066.9C1657.8 2070 1662.6 2072.1 1669.3 2073.6C1676 2075.1 1689 2075.5 1693 2075.9Z" fill="url(#gg1)"/>
<path d="M1085.9 2076.4C1093.2 2076.3 1117.1 2076.1 1130 2075.8C1142.9 2075.5 1153.6 2075.6 1163.1 2074.5C1172.6 2073.4 1178.9 2071.8 1186.8 2069.3C1194.7 2066.9 1202.7 2063.8 1210.6 2059.8C1218.5 2055.8 1226.4 2051.2 1234.3 2045.5C1242.2 2039.8 1250.2 2032.5 1258.1 2025.4C1266 2018.3 1273.9 2009.7 1281.8 2002.8C1289.7 1995.9 1298.8 1988.3 1305.5 1983.8C1312.2 1979.2 1317 1977.2 1322.2 1975.5C1327.4 1973.8 1331.7 1973.7 1336.4 1973.8C1341.2 1973.9 1346 1974.5 1350.7 1976.2C1355.5 1977.9 1358.6 1979 1364.9 1983.8C1371.2 1988.6 1380.7 1997.7 1388.6 2005.2C1396.5 2012.7 1404.8 2021.8 1412.4 2028.9C1420 2036 1428.2 2043 1434.2 2047.9C1440.2 2052.8 1443 2055.4 1448.5 2058.6C1454 2061.8 1460.4 2064.5 1467.5 2066.9C1474.6 2069.3 1483.3 2071.4 1491.2 2072.8C1499.1 2074.2 1507.7 2074.6 1515 2075.2C1522.3 2075.8 1527.5 2075.9 1535 2076.1C1542.5 2076.3 1549.2 2076.3 1560 2076.4C1570.8 2076.5 1576.7 2076.4 1600 2076.4C1623.3 2076.4 1666.7 2076.4 1700 2076.4C1733.3 2076.4 1767.2 2076.4 1800 2076.4C1832.8 2076.4 1880.8 2076.4 1897 2076.4" fill="none" stroke="#c585d8" stroke-width="3.5"/>
<path d="M1127.5 2076.4C1139.6 2076.4 1171.2 2076.4 1200 2076.4C1228.8 2076.4 1271.7 2076.4 1300 2076.4C1328.3 2076.4 1354.2 2076.4 1370 2076.3C1385.8 2076.2 1388.3 2076.2 1395 2076.1C1401.7 2076 1405.5 2075.9 1410 2075.6C1414.5 2075.3 1418 2075.1 1422 2074.4C1426 2073.8 1429.8 2073.1 1434.2 2071.7C1438.6 2070.2 1444.1 2068.1 1448.5 2065.7C1452.9 2063.3 1456.5 2061.2 1460.4 2057.4C1464.4 2053.7 1468.2 2049.1 1472.2 2043.2C1476.2 2037.3 1480.5 2028.9 1484.1 2021.8C1487.7 2014.7 1490.4 2008.3 1493.6 2000.4C1496.8 1992.5 1499.5 1984.6 1503.1 1974.3C1506.7 1964 1511.4 1949.8 1515 1938.7C1518.6 1927.6 1521.3 1918.1 1524.5 1907.8C1527.7 1897.5 1530.8 1885.7 1534 1877C1537.2 1868.3 1540.7 1860.5 1543.5 1855.6C1546.3 1850.6 1548.7 1849 1550.6 1847.3C1552.5 1845.6 1553.3 1845.6 1554.9 1845.6C1556.5 1845.6 1557.6 1844.4 1560.1 1847.3C1562.5 1850.2 1566.4 1855.8 1569.6 1862.7C1572.8 1869.6 1575.9 1879.3 1579.1 1888.8C1582.3 1898.3 1585.4 1909 1588.6 1919.7C1591.8 1930.4 1594.9 1941.9 1598.1 1953C1601.3 1964.1 1604.4 1975.9 1607.6 1986.2C1610.8 1996.5 1613.8 2006.4 1617 2014.7C1620.2 2023 1622.9 2029.3 1626.5 2036C1630.1 2042.7 1634 2049.8 1638.4 2055C1642.8 2060.2 1647.6 2063.8 1652.7 2066.9C1657.8 2070 1662.6 2072.1 1669.3 2073.6C1676 2075.1 1689 2075.5 1693 2075.9" fill="none" stroke="#1f5fb0" stroke-width="3.5"/>
<path d="M1085.9 2069.3C1092.8 2069 1114.6 2068.2 1127.5 2067.4C1140.4 2066.6 1153.2 2065.8 1163.1 2064.5C1173 2063.2 1178.9 2062 1186.8 2059.8C1194.7 2057.6 1202.7 2055.3 1210.6 2051.5C1218.5 2047.7 1226.4 2042.9 1234.3 2037.2C1242.2 2031.5 1250.2 2024.2 1258.1 2017.1C1266 2010 1273.9 2001.6 1281.8 1994.5C1289.7 1987.4 1298.8 1979 1305.5 1974.3C1312.2 1969.5 1317 1967.7 1322.2 1966C1327.4 1964.3 1331.7 1964.3 1336.4 1964.4C1341.2 1964.5 1346 1965.1 1350.7 1966.7C1355.5 1968.3 1358.6 1969.5 1364.9 1974.3C1371.2 1979.1 1380.7 1988.2 1388.6 1995.7C1396.5 2003.2 1405.3 2013.1 1412.4 2019.4C1419.5 2025.7 1426.3 2030.5 1431.4 2033.7C1436.5 2036.9 1439.8 2037.4 1443.2 2038.4C1446.6 2039.4 1448.8 2039.7 1451.6 2039.6C1454.4 2039.5 1457.7 2038.8 1459.9 2038C1462.2 2037.2 1462.2 2037.6 1465.1 2034.9C1467.9 2032.2 1473 2027.5 1477 2021.8C1481 2016 1484.8 2008.7 1488.8 2000.4C1492.8 1992.1 1496.7 1982.6 1500.7 1971.9C1504.7 1961.2 1509 1947.8 1512.6 1936.3C1516.2 1924.8 1518.9 1913.8 1522.1 1903.1C1525.3 1892.4 1528.4 1881.3 1531.6 1872.2C1534.8 1863.1 1538.3 1854 1541.1 1848.5C1543.9 1843 1546.2 1841 1548.2 1839C1550.2 1837 1551.4 1836.4 1553.4 1836.6C1555.4 1836.8 1557.4 1837 1560.1 1840.2C1562.8 1843.4 1566.4 1848.7 1569.6 1855.6C1572.8 1862.5 1575.9 1871.8 1579.1 1881.7C1582.3 1891.6 1585.4 1903.9 1588.6 1915C1591.8 1926.1 1594.9 1937.1 1598.1 1948.2C1601.3 1959.3 1604.4 1971.1 1607.6 1981.4C1610.8 1991.7 1613.8 2001.6 1617 2009.9C1620.2 2018.2 1622.9 2024.6 1626.5 2031.3C1630.1 2038 1634 2045.2 1638.4 2050.3C1642.8 2055.5 1647.6 2059.2 1652.7 2062.2C1657.8 2065.2 1663.1 2066.8 1669.3 2068.1C1675.5 2069.4 1681.5 2069.4 1690 2069.8C1698.5 2070.2 1709.6 2070.3 1720 2070.6C1730.4 2070.8 1743.1 2071 1752.4 2071.3C1761.8 2071.6 1768.2 2072.3 1776.1 2072.6C1784 2072.9 1789.3 2073.1 1800 2073.3C1810.7 2073.5 1823.8 2073.6 1840 2073.6C1856.2 2073.6 1887.5 2073.6 1897 2073.6" fill="none" stroke="#f03028" stroke-width="3.5"/>
<rect x="1084.4" y="1725.6" width="814.9" height="437.7" fill="none" stroke="#000" stroke-width="3.8"/>
<path d="M1287.5 2163.3V2152.8M1491.3 2163.3V2152.8M1695 2163.3V2152.8" stroke="#000" stroke-width="3.8" fill="none"/>
<path d="M1185.7 2163.3V2157.8M1389.4 2163.3V2157.8M1593.2 2163.3V2157.8M1796.9 2163.3V2157.8" stroke="#000" stroke-width="3.8" fill="none"/>
<text x="1059.8" y="2200" font-size="33.5" textLength="48" lengthAdjust="spacingAndGlyphs" class="r" fill="#1c1c1c">470</text>
<text x="1263.5" y="2200" font-size="33.5" textLength="48" lengthAdjust="spacingAndGlyphs" class="r" fill="#1c1c1c">465</text>
<text x="1467.3" y="2200" font-size="33.5" textLength="48" lengthAdjust="spacingAndGlyphs" class="r" fill="#1c1c1c">460</text>
<text x="1671" y="2200" font-size="33.5" textLength="48" lengthAdjust="spacingAndGlyphs" class="r" fill="#1c1c1c">455</text>
<text x="1874.8" y="2200" font-size="33.5" textLength="48" lengthAdjust="spacingAndGlyphs" class="r" fill="#1c1c1c">450</text>
<text x="1355.7" y="2252.3" font-size="33.5" textLength="273.3" lengthAdjust="spacingAndGlyphs" class="r" fill="#1c1c1c">Binding energy (eV)</text>
<text transform="translate(1061 2040.3) rotate(-90)" x="0" y="0" font-size="33.5" textLength="193.8" lengthAdjust="spacingAndGlyphs" class="r" fill="#1c1c1c">Intensity (a.u.)</text>
<path d="M1117 1773H1178" stroke="#1f5fb0" stroke-width="4.5" stroke-linecap="round" fill="none"/>
<path d="M1117 1806.4H1178" stroke="#c585d8" stroke-width="4.5" stroke-linecap="round" fill="none"/>
<text x="1184.7" y="1782" font-size="27.3" textLength="176.7" lengthAdjust="spacingAndGlyphs" class="r" fill="#1c1c1c">458eV(Ti2p3/2)</text>
<text x="1184.7" y="1815" font-size="27.3" textLength="176.7" lengthAdjust="spacingAndGlyphs" class="r" fill="#1c1c1c">464eV(Ti2p1/2)</text>
<text x="993.7" y="1790.5" font-size="80" textLength="88.2" lengthAdjust="spacingAndGlyphs" font-weight="bold" class="b" fill="#000">(g)</text></g></svg>
</body></html>
